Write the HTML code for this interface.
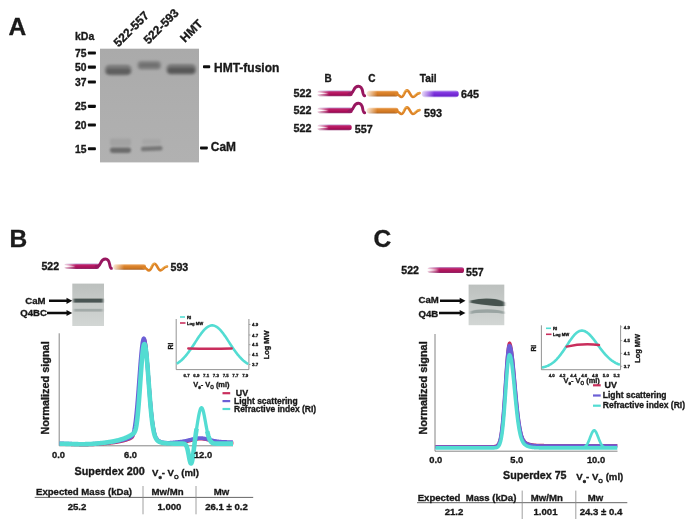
<!DOCTYPE html>
<html><head><meta charset="utf-8"><title>Figure</title>
<style>
html,body{margin:0;padding:0;background:#fff;}
body{width:693px;height:530px;overflow:hidden;}
svg{display:block;}
text{font-family:"Liberation Sans",Arial,sans-serif;font-weight:bold;fill:#1a1a1a;stroke:#1a1a1a;stroke-width:0.34px;stroke-linejoin:round;}
</style></head><body>
<svg width="693" height="530" viewBox="0 0 693 530">
<defs>
<filter id="b1" x="-20%" y="-50%" width="140%" height="200%"><feGaussianBlur stdDeviation="1.6 1.3"/></filter>
<filter id="b2" x="-20%" y="-50%" width="140%" height="200%"><feGaussianBlur stdDeviation="1.2 0.9"/></filter>
<filter id="b3" x="-20%" y="-80%" width="140%" height="260%"><feGaussianBlur stdDeviation="0.8 0.7"/></filter>
<filter id="soft" x="-5%" y="-5%" width="110%" height="110%"><feGaussianBlur stdDeviation="0.6"/></filter>
<linearGradient id="mg" x1="0" y1="0" x2="0" y2="1"><stop offset="0" stop-color="#b8a3d4"/><stop offset="0.28" stop-color="#bf1f69"/><stop offset="0.7" stop-color="#a90f57"/><stop offset="1" stop-color="#8e2c6c"/></linearGradient>
<linearGradient id="og" x1="0" y1="0" x2="0" y2="1"><stop offset="0" stop-color="#efb478"/><stop offset="0.28" stop-color="#de8730"/><stop offset="0.7" stop-color="#d07722"/><stop offset="1" stop-color="#a8642a"/></linearGradient>
<linearGradient id="pg" x1="0" y1="0" x2="0" y2="1"><stop offset="0" stop-color="#c0a8f0"/><stop offset="0.3" stop-color="#8238e0"/><stop offset="0.75" stop-color="#6d25cf"/><stop offset="1" stop-color="#b7a0ea"/></linearGradient>
<linearGradient id="fade" x1="0" y1="0" x2="1" y2="0"><stop offset="0" stop-color="#fff" stop-opacity="0.85"/><stop offset="0.35" stop-color="#fff" stop-opacity="0"/></linearGradient>
<linearGradient id="mgel" x1="0" y1="0" x2="0" y2="1"><stop offset="0" stop-color="#bcc0be"/><stop offset="0.5" stop-color="#c8ccca"/><stop offset="1" stop-color="#d2d6d4"/></linearGradient>
<linearGradient id="gelg" x1="0" y1="0" x2="0" y2="1"><stop offset="0" stop-color="#aaaaaa"/><stop offset="0.5" stop-color="#aeaeae"/><stop offset="1" stop-color="#b1b1b1"/></linearGradient>
</defs>
<g filter="url(#soft)">

<text x="8.5" y="35.4" font-size="24.5">A</text>
<text x="75" y="40.4" font-size="10.5">kDa</text>
<text x="75" y="57" font-size="10.3">75</text>
<rect x="87.9" y="51.5" width="8" height="3.1" rx="0.8" fill="#111"/>
<text x="75" y="71.1" font-size="10.3">50</text>
<rect x="87.9" y="65.6" width="8" height="3.1" rx="0.8" fill="#111"/>
<text x="75" y="85.9" font-size="10.3">37</text>
<rect x="87.9" y="80.4" width="8" height="3.1" rx="0.8" fill="#111"/>
<text x="75" y="110.3" font-size="10.3">25</text>
<rect x="87.9" y="104.8" width="8" height="3.1" rx="0.8" fill="#111"/>
<text x="75" y="129" font-size="10.3">20</text>
<rect x="87.9" y="123.5" width="8" height="3.1" rx="0.8" fill="#111"/>
<text x="75" y="152.7" font-size="10.3">15</text>
<rect x="87.9" y="147.2" width="8" height="3.1" rx="0.8" fill="#111"/>
<rect x="100" y="48.7" width="99" height="113.7" fill="url(#gelg)"/>
<g filter="url(#b1)">
<rect x="105" y="64.8" width="26.5" height="10.6" rx="4.5" fill="#7c7c7c"/>
<rect x="106" y="68.6" width="24.5" height="5.6" rx="2.8" fill="#5e5e5e"/>
<rect x="137.5" y="60.8" width="23.5" height="9" rx="4" fill="#848484"/>
<rect x="139" y="63.2" width="20.5" height="4.2" rx="2" fill="#707070"/>
<rect x="166.5" y="64" width="29.5" height="10.8" rx="4.5" fill="#7a7a7a"/>
<rect x="167.5" y="67.6" width="27.5" height="5.6" rx="2.8" fill="#585858"/>
</g>
<g filter="url(#b2)">
<rect x="110" y="147.4" width="21" height="5.6" rx="2.4" fill="#6c6c6c"/>
<rect x="110" y="138.5" width="21" height="7.5" rx="2" fill="#a3a3a3"/>
<rect x="141" y="146.3" width="21.5" height="4.6" rx="2" fill="#777" transform="rotate(-2.5 152 148.5)"/>
<rect x="142" y="139" width="19" height="5.5" rx="2" fill="#a7a7a7"/>
</g>
<text transform="translate(118.6,47.4) rotate(-45)" font-size="12">522-557</text>
<text transform="translate(148.4,44.8) rotate(-45)" font-size="12">522-593</text>
<text transform="translate(185,43) rotate(-45)" font-size="12">HMT</text>
<rect x="203" y="65.3" width="7.2" height="3" rx="0.8" fill="#111"/>
<text x="214" y="71.5" font-size="12">HMT-fusion</text>
<rect x="200" y="146.4" width="7.8" height="3" rx="0.8" fill="#111"/>
<text x="210.8" y="151.1" font-size="11.9">CaM</text>
<text x="324.4" y="81.8" font-size="10">B</text>
<text x="368.2" y="81.8" font-size="10">C</text>
<text x="419.8" y="82.2" font-size="10.2">Tail</text>
<text x="293.5" y="97.3" font-size="10.8">522</text>
<text x="293.5" y="114.3" font-size="10.8">522</text>
<text x="293.5" y="131.8" font-size="10.8">522</text>
<rect x="317.3" y="90.4" width="35.4" height="5.8" rx="2.5" fill="url(#mg)"/><rect x="316.8" y="89.9" width="35.4" height="6.8" fill="url(#fade)"/><path d="M316.8,92.2 L328.3,93.3 L316.8,94.4 Z" fill="#fff"/>
<path d="M349,94.1 C355.0,94.1 352.2,86.3 358.4,86.3 C364.4,86.3 361.4,95.6 364.8,95.7" fill="none" stroke="#98185f" stroke-width="2.9" stroke-linecap="round"/>
<rect x="366.8" y="90.7" width="31.7" height="5.8" rx="2.5" fill="url(#og)"/><rect x="366.3" y="90.2" width="31.7" height="6.8" fill="url(#fade)"/>
<path d="M396,94.19999999999999 C399.5,94.19999999999999 399.5,97.0 401.5,97.0 C404,97.0 404.5,90.39999999999999 407,90.39999999999999 C409.5,90.39999999999999 410.5,97.0 413,97.0 C415.5,97.0 416,93.1 419.5,93.1" fill="none" stroke="#dd8326" stroke-width="2.6" stroke-linecap="round"/><path d="M403,94.6 C404.5,90.39999999999999 405.5,90.19999999999999 407,90.19999999999999 M414.5,96.0 C416,93.1 417,92.89999999999999 419.5,92.89999999999999" fill="none" stroke="#f6c860" stroke-width="0.9" stroke-linecap="round" opacity="0.8"/>
<rect x="421.9" y="90.5" width="36.8" height="6.8" rx="3.0" fill="url(#pg)"/><rect x="421.4" y="90.0" width="36.8" height="7.8" fill="url(#fade)"/>
<text x="461" y="98.4" font-size="10.8">645</text>
<rect x="317.3" y="107.4" width="35.4" height="5.8" rx="2.5" fill="url(#mg)"/><rect x="316.8" y="106.9" width="35.4" height="6.8" fill="url(#fade)"/><path d="M316.8,109.2 L328.3,110.3 L316.8,111.4 Z" fill="#fff"/>
<path d="M349,111.1 C355.0,111.1 352.2,103.3 358.4,103.3 C364.4,103.3 361.4,112.6 364.8,112.7" fill="none" stroke="#98185f" stroke-width="2.9" stroke-linecap="round"/>
<rect x="366.8" y="107.7" width="31.7" height="5.8" rx="2.5" fill="url(#og)"/><rect x="366.3" y="107.2" width="31.7" height="6.8" fill="url(#fade)"/>
<path d="M396,111.19999999999999 C399.5,111.19999999999999 399.5,114.0 401.5,114.0 C404,114.0 404.5,107.39999999999999 407,107.39999999999999 C409.5,107.39999999999999 410.5,114.0 413,114.0 C415.5,114.0 416,110.1 419.5,110.1" fill="none" stroke="#dd8326" stroke-width="2.6" stroke-linecap="round"/><path d="M403,111.6 C404.5,107.39999999999999 405.5,107.19999999999999 407,107.19999999999999 M414.5,113.0 C416,110.1 417,109.89999999999999 419.5,109.89999999999999" fill="none" stroke="#f6c860" stroke-width="0.9" stroke-linecap="round" opacity="0.8"/>
<text x="424" y="117" font-size="10.8">593</text>
<rect x="317.3" y="124.4" width="34.4" height="5.8" rx="2.5" fill="url(#mg)"/><rect x="316.8" y="123.9" width="34.4" height="6.8" fill="url(#fade)"/><path d="M316.8,126.2 L328.3,127.3 L316.8,128.4 Z" fill="#fff"/>
<text x="354.7" y="133" font-size="10.8">557</text>
<text x="9.5" y="247.3" font-size="24.5">B</text>
<text x="41.4" y="270" font-size="10.6">522</text>
<rect x="64.2" y="263.5" width="35.3" height="5.4" rx="2.3" fill="url(#mg)"/><rect x="63.7" y="263.0" width="35.3" height="6.4" fill="url(#fade)"/><path d="M63.7,265.1 L75.2,266.2 L63.7,267.3 Z" fill="#fff"/>
<path d="M96,266.8 C102.0,266.8 99.2,259.0 105.4,259.0 C111.4,259.0 108.4,268.3 111.8,268.4" fill="none" stroke="#98185f" stroke-width="2.9" stroke-linecap="round"/>
<rect x="113.2" y="264.3" width="32.8" height="5.4" rx="2.3" fill="url(#og)"/><rect x="112.7" y="263.8" width="32.8" height="6.4" fill="url(#fade)"/>
<path d="M143.5,267.6 C147.0,267.6 147.0,270.4 149.0,270.4 C151.5,270.4 152.0,263.8 154.5,263.8 C157.0,263.8 158.0,270.4 160.5,270.4 C163.0,270.4 163.5,266.5 167.0,266.5" fill="none" stroke="#dd8326" stroke-width="2.6" stroke-linecap="round"/><path d="M150.5,268.0 C152.0,263.8 153.0,263.6 154.5,263.6 M162.0,269.4 C163.5,266.5 164.5,266.3 167.0,266.3" fill="none" stroke="#f6c860" stroke-width="0.9" stroke-linecap="round" opacity="0.8"/>
<text x="170.5" y="270.6" font-size="10.6">593</text>
<rect x="72.3" y="283.6" width="31.7" height="42.4" fill="url(#mgel)"/>
<g filter="url(#b3)"><rect x="73.5" y="298.6" width="29.5" height="4" fill="#4a5452"/><rect x="74" y="308.8" width="28.5" height="2.8" fill="#a2aaa8"/></g>
<text x="25.3" y="304.3" font-size="9.6">CaM</text>
<path d="M49,299.6 L66.5,299.6 L66.5,297.7 L72.3,300.8 L66.5,303.90000000000003 L66.5,302.0 L49,302.0 Z" fill="#111"/>
<text x="20.2" y="316.4" font-size="9.6">Q4BC</text>
<path d="M47,311.8 L66.5,311.8 L66.5,309.9 L72.3,313 L66.5,316.1 L66.5,314.2 L47,314.2 Z" fill="#111"/>
<path d="M59.2,333.3 L59.2,445.8 L233,445.8" fill="none" stroke="#777" stroke-width="0.9"/>
<text transform="translate(49.3,434.5) rotate(-90)" font-size="10.9">Normalized signal</text>
<path d="M59.5,443.43 L59.8,443.43 L60.1,443.44 L60.4,443.44 L60.7,443.45 L61.0,443.46 L61.3,443.46 L61.6,443.47 L61.9,443.48 L62.2,443.48 L62.5,443.49 L62.8,443.50 L63.1,443.50 L63.4,443.51 L63.7,443.52 L64.0,443.53 L64.3,443.54 L64.6,443.54 L64.9,443.55 L65.2,443.56 L65.5,443.57 L65.8,443.58 L66.1,443.59 L66.4,443.60 L66.7,443.61 L67.0,443.61 L67.3,443.62 L67.6,443.63 L67.9,443.64 L68.2,443.65 L68.5,443.66 L68.8,443.67 L69.1,443.68 L69.4,443.69 L69.7,443.70 L70.0,443.71 L70.3,443.72 L70.6,443.73 L70.9,443.74 L71.2,443.75 L71.5,443.76 L71.8,443.77 L72.1,443.79 L72.4,443.80 L72.7,443.81 L73.0,443.82 L73.3,443.83 L73.6,443.84 L73.9,443.85 L74.2,443.85 L74.5,443.86 L74.8,443.87 L75.1,443.88 L75.4,443.89 L75.7,443.90 L76.0,443.91 L76.3,443.92 L76.6,443.93 L76.9,443.94 L77.2,443.94 L77.5,443.95 L77.8,443.96 L78.1,443.96 L78.4,443.97 L78.7,443.98 L79.0,443.98 L79.3,443.99 L79.6,444.00 L79.9,444.00 L80.2,444.01 L80.5,444.01 L80.8,444.01 L81.1,444.02 L81.4,444.02 L81.7,444.02 L82.0,444.03 L82.3,444.03 L82.6,444.03 L82.9,444.03 L83.2,444.03 L83.5,444.03 L83.8,444.03 L84.1,444.03 L84.4,444.03 L84.7,444.03 L85.0,444.02 L85.3,444.02 L85.6,444.02 L85.9,444.01 L86.2,444.01 L86.5,444.00 L86.8,444.00 L87.1,443.99 L87.4,443.99 L87.7,443.98 L88.0,443.97 L88.3,443.96 L88.6,443.95 L88.9,443.95 L89.2,443.94 L89.5,443.93 L89.8,443.92 L90.1,443.90 L90.4,443.89 L90.7,443.88 L91.0,443.87 L91.3,443.85 L91.6,443.84 L91.9,443.83 L92.2,443.81 L92.5,443.80 L92.8,443.78 L93.1,443.77 L93.4,443.75 L93.7,443.73 L94.0,443.72 L94.3,443.70 L94.6,443.68 L94.9,443.66 L95.2,443.64 L95.5,443.62 L95.8,443.60 L96.1,443.58 L96.4,443.56 L96.7,443.54 L97.0,443.52 L97.3,443.50 L97.6,443.48 L97.9,443.46 L98.2,443.43 L98.5,443.41 L98.8,443.39 L99.1,443.37 L99.4,443.34 L99.7,443.32 L100.0,443.29 L100.3,443.27 L100.6,443.24 L100.9,443.22 L101.2,443.19 L101.5,443.17 L101.8,443.14 L102.1,443.11 L102.4,443.09 L102.7,443.06 L103.0,443.03 L103.3,443.01 L103.6,442.98 L103.9,442.95 L104.2,442.92 L104.5,442.89 L104.8,442.87 L105.1,442.84 L105.4,442.81 L105.7,442.78 L106.0,442.75 L106.3,442.72 L106.6,442.69 L106.9,442.66 L107.2,442.62 L107.5,442.59 L107.8,442.56 L108.1,442.53 L108.4,442.50 L108.7,442.46 L109.0,442.43 L109.3,442.39 L109.6,442.36 L109.9,442.33 L110.2,442.29 L110.5,442.25 L110.8,442.22 L111.1,442.18 L111.4,442.15 L111.7,442.11 L112.0,442.07 L112.3,442.03 L112.6,441.99 L112.9,441.95 L113.2,441.91 L113.5,441.87 L113.8,441.83 L114.1,441.78 L114.4,441.74 L114.7,441.70 L115.0,441.65 L115.3,441.61 L115.6,441.56 L115.9,441.51 L116.2,441.47 L116.5,441.42 L116.8,441.37 L117.1,441.32 L117.4,441.27 L117.7,441.21 L118.0,441.16 L118.3,441.10 L118.6,441.05 L118.9,440.99 L119.2,440.93 L119.5,440.87 L119.8,440.81 L120.1,440.75 L120.4,440.69 L120.7,440.62 L121.0,440.56 L121.3,440.49 L121.6,440.42 L121.9,440.35 L122.2,440.28 L122.5,440.21 L122.8,440.14 L123.1,440.06 L123.4,439.98 L123.7,439.90 L124.0,439.82 L124.3,439.74 L124.6,439.65 L124.9,439.57 L125.2,439.48 L125.5,439.39 L125.8,439.29 L126.1,439.20 L126.4,439.10 L126.7,439.00 L127.0,438.90 L127.3,438.80 L127.6,438.69 L127.9,438.58 L128.2,438.47 L128.5,438.36 L128.8,438.24 L129.1,438.12 L129.4,437.99 L129.7,437.86 L130.0,437.72 L130.3,437.58 L130.6,437.41 L130.9,437.23 L131.2,437.01 L131.5,436.75 L131.8,436.44 L132.1,436.04 L132.4,435.55 L132.7,434.94 L133.0,434.18 L133.3,433.27 L133.6,432.18 L133.9,430.91 L134.2,429.46 L134.5,427.80 L134.8,425.95 L135.1,423.90 L135.4,421.64 L135.7,419.18 L136.0,416.52 L136.3,413.66 L136.6,410.61 L136.9,407.38 L137.2,403.98 L137.5,400.42 L137.8,396.72 L138.1,392.90 L138.4,388.97 L138.7,384.98 L139.0,380.93 L139.3,376.88 L139.6,372.84 L139.9,368.87 L140.2,364.98 L140.5,361.23 L140.8,357.65 L141.1,354.27 L141.4,351.13 L141.7,348.27 L142.0,345.72 L142.3,343.51 L142.6,341.67 L142.9,340.21 L143.2,339.15 L143.5,338.51 L143.8,338.30 L144.1,338.52 L144.4,339.17 L144.7,340.25 L145.0,341.75 L145.3,343.64 L145.6,345.89 L145.9,348.49 L146.2,351.40 L146.5,354.58 L146.8,358.00 L147.1,361.62 L147.4,365.40 L147.7,369.30 L148.0,373.28 L148.3,377.30 L148.6,381.32 L148.9,385.32 L149.2,389.26 L149.5,393.12 L149.8,396.86 L150.1,400.47 L150.4,403.93 L150.7,407.22 L151.0,410.34 L151.3,413.28 L151.6,416.02 L151.9,418.58 L152.2,420.95 L152.5,423.13 L152.8,425.13 L153.1,426.96 L153.4,428.62 L153.7,430.12 L154.0,431.48 L154.3,432.69 L154.6,433.79 L154.9,434.76 L155.2,435.63 L155.5,436.40 L155.8,437.08 L156.1,437.69 L156.4,438.22 L156.7,438.70 L157.0,439.12 L157.3,439.49 L157.6,439.82 L157.9,440.11 L158.2,440.38 L158.5,440.61 L158.8,440.82 L159.1,441.01 L159.4,441.17 L159.7,441.33 L160.0,441.47 L160.3,441.60 L160.6,441.71 L160.9,441.82 L161.2,441.92 L161.5,442.01 L161.8,442.09 L162.1,442.17 L162.4,442.24 L162.7,442.31 L163.0,442.37 L163.3,442.43 L163.6,442.48 L163.9,442.53 L164.2,442.57 L164.5,442.61 L164.8,442.65 L165.1,442.68 L165.4,442.71 L165.7,442.73 L166.0,442.75 L166.3,442.77 L166.6,442.79 L166.9,442.80 L167.2,442.81 L167.5,442.82 L167.8,442.82 L168.1,442.82 L168.4,442.82 L168.7,442.81 L169.0,442.81 L169.3,442.80 L169.6,442.78 L169.9,442.77 L170.2,442.75 L170.5,442.73 L170.8,442.71 L171.1,442.69 L171.4,442.66 L171.7,442.64 L172.0,442.61 L172.3,442.58 L172.6,442.56 L172.9,442.53 L173.2,442.50 L173.5,442.47 L173.8,442.44 L174.1,442.40 L174.4,442.37 L174.7,442.34 L175.0,442.31 L175.3,442.28 L175.6,442.25 L175.9,442.22 L176.2,442.19 L176.5,442.15 L176.8,442.12 L177.1,442.09 L177.4,442.06 L177.7,442.03 L178.0,442.00 L178.3,441.96 L178.6,441.93 L178.9,441.90 L179.2,441.86 L179.5,441.83 L179.8,441.79 L180.1,441.76 L180.4,441.72 L180.7,441.68 L181.0,441.64 L181.3,441.60 L181.6,441.56 L181.9,441.51 L182.2,441.47 L182.5,441.42 L182.8,441.38 L183.1,441.33 L183.4,441.28 L183.7,441.22 L184.0,441.17 L184.3,441.11 L184.6,441.06 L184.9,441.00 L185.2,440.94 L185.5,440.88 L185.8,440.82 L186.1,440.75 L186.4,440.69 L186.7,440.62 L187.0,440.55 L187.3,440.48 L187.6,440.41 L187.9,440.34 L188.2,440.26 L188.5,440.19 L188.8,440.12 L189.1,440.04 L189.4,439.96 L189.7,439.89 L190.0,439.81 L190.3,439.73 L190.6,439.66 L190.9,439.58 L191.2,439.50 L191.5,439.43 L191.8,439.35 L192.1,439.27 L192.4,439.20 L192.7,439.13 L193.0,439.05 L193.3,438.98 L193.6,438.92 L193.9,438.85 L194.2,438.78 L194.5,438.72 L194.8,438.66 L195.1,438.60 L195.4,438.54 L195.7,438.49 L196.0,438.44 L196.3,438.39 L196.6,438.35 L196.9,438.31 L197.2,438.27 L197.5,438.24 L197.8,438.21 L198.1,438.18 L198.4,438.16 L198.7,438.14 L199.0,438.12 L199.3,438.11 L199.6,438.10 L199.9,438.10 L200.2,438.10 L200.5,438.11 L200.8,438.11 L201.1,438.13 L201.4,438.14 L201.7,438.16 L202.0,438.19 L202.3,438.22 L202.6,438.25 L202.9,438.28 L203.2,438.32 L203.5,438.36 L203.8,438.41 L204.1,438.46 L204.4,438.51 L204.7,438.56 L205.0,438.62 L205.3,438.68 L205.6,438.74 L205.9,438.80 L206.2,438.87 L206.5,438.93 L206.8,439.00 L207.1,439.07 L207.4,439.15 L207.7,439.22 L208.0,439.29 L208.3,439.37 L208.6,439.44 L208.9,439.52 L209.2,439.60 L209.5,439.67 L209.8,439.75 L210.1,439.83 L210.4,439.90 L210.7,439.98 L211.0,440.05 L211.3,440.13 L211.6,440.20 L211.9,440.27 L212.2,440.35 L212.5,440.42 L212.8,440.49 L213.1,440.55 L213.4,440.62 L213.7,440.69 L214.0,440.75 L214.3,440.81 L214.6,440.87 L214.9,440.93 L215.2,440.99 L215.5,441.04 L215.8,441.10 L216.1,441.15 L216.4,441.20 L216.7,441.25 L217.0,441.29 L217.3,441.34 L217.6,441.38 L217.9,441.42 L218.2,441.46 L218.5,441.50 L218.8,441.54 L219.1,441.57 L219.4,441.60 L219.7,441.63 L220.0,441.66 L220.3,441.69 L220.6,441.72 L220.9,441.74 L221.2,441.77 L221.5,441.79 L221.8,441.81 L222.1,441.83 L222.4,441.85 L222.7,441.87 L223.0,441.89 L223.3,441.90 L223.6,441.92 L223.9,441.93 L224.2,441.94 L224.5,441.96 L224.8,441.97 L225.1,441.98 L225.4,441.99 L225.7,442.00 L226.0,442.01 L226.3,442.01 L226.6,442.02 L226.9,442.03 L227.2,442.03 L227.5,442.04 L227.8,442.04 L228.1,442.05 L228.4,442.05 L228.7,442.06 L229.0,442.06 L229.3,442.07 L229.6,442.07 L229.9,442.07 L230.2,442.07 L230.5,442.08 L230.8,442.08 L231.1,442.08 L231.4,442.08 L231.7,442.08 L232.0,442.09 L232.3,442.09 L232.6,442.09 L232.9,442.09" fill="none" stroke="#c92f5c" stroke-width="3.0" stroke-linejoin="round" transform="translate(0.5,0.9)"/>
<path d="M59.5,443.43 L59.8,443.43 L60.1,443.44 L60.4,443.44 L60.7,443.45 L61.0,443.46 L61.3,443.46 L61.6,443.47 L61.9,443.48 L62.2,443.48 L62.5,443.49 L62.8,443.50 L63.1,443.50 L63.4,443.51 L63.7,443.52 L64.0,443.53 L64.3,443.54 L64.6,443.54 L64.9,443.55 L65.2,443.56 L65.5,443.57 L65.8,443.58 L66.1,443.59 L66.4,443.60 L66.7,443.61 L67.0,443.61 L67.3,443.62 L67.6,443.63 L67.9,443.64 L68.2,443.65 L68.5,443.66 L68.8,443.67 L69.1,443.68 L69.4,443.69 L69.7,443.70 L70.0,443.71 L70.3,443.72 L70.6,443.73 L70.9,443.74 L71.2,443.75 L71.5,443.76 L71.8,443.77 L72.1,443.79 L72.4,443.80 L72.7,443.81 L73.0,443.82 L73.3,443.83 L73.6,443.84 L73.9,443.85 L74.2,443.85 L74.5,443.86 L74.8,443.87 L75.1,443.88 L75.4,443.89 L75.7,443.90 L76.0,443.91 L76.3,443.92 L76.6,443.93 L76.9,443.94 L77.2,443.94 L77.5,443.95 L77.8,443.96 L78.1,443.96 L78.4,443.97 L78.7,443.98 L79.0,443.98 L79.3,443.99 L79.6,444.00 L79.9,444.00 L80.2,444.01 L80.5,444.01 L80.8,444.01 L81.1,444.02 L81.4,444.02 L81.7,444.02 L82.0,444.03 L82.3,444.03 L82.6,444.03 L82.9,444.03 L83.2,444.03 L83.5,444.03 L83.8,444.03 L84.1,444.03 L84.4,444.03 L84.7,444.03 L85.0,444.02 L85.3,444.02 L85.6,444.02 L85.9,444.01 L86.2,444.01 L86.5,444.00 L86.8,444.00 L87.1,443.99 L87.4,443.99 L87.7,443.98 L88.0,443.97 L88.3,443.96 L88.6,443.95 L88.9,443.95 L89.2,443.94 L89.5,443.93 L89.8,443.92 L90.1,443.90 L90.4,443.89 L90.7,443.88 L91.0,443.87 L91.3,443.85 L91.6,443.84 L91.9,443.83 L92.2,443.81 L92.5,443.80 L92.8,443.78 L93.1,443.77 L93.4,443.75 L93.7,443.73 L94.0,443.72 L94.3,443.70 L94.6,443.68 L94.9,443.66 L95.2,443.64 L95.5,443.62 L95.8,443.60 L96.1,443.58 L96.4,443.56 L96.7,443.54 L97.0,443.52 L97.3,443.50 L97.6,443.48 L97.9,443.46 L98.2,443.43 L98.5,443.41 L98.8,443.39 L99.1,443.37 L99.4,443.34 L99.7,443.32 L100.0,443.29 L100.3,443.27 L100.6,443.24 L100.9,443.22 L101.2,443.19 L101.5,443.17 L101.8,443.14 L102.1,443.11 L102.4,443.09 L102.7,443.06 L103.0,443.03 L103.3,443.01 L103.6,442.98 L103.9,442.95 L104.2,442.92 L104.5,442.89 L104.8,442.87 L105.1,442.84 L105.4,442.81 L105.7,442.78 L106.0,442.75 L106.3,442.72 L106.6,442.69 L106.9,442.66 L107.2,442.62 L107.5,442.59 L107.8,442.56 L108.1,442.53 L108.4,442.50 L108.7,442.46 L109.0,442.43 L109.3,442.39 L109.6,442.36 L109.9,442.33 L110.2,442.29 L110.5,442.25 L110.8,442.22 L111.1,442.18 L111.4,442.15 L111.7,442.11 L112.0,442.07 L112.3,442.03 L112.6,441.99 L112.9,441.95 L113.2,441.91 L113.5,441.87 L113.8,441.83 L114.1,441.78 L114.4,441.74 L114.7,441.70 L115.0,441.65 L115.3,441.61 L115.6,441.56 L115.9,441.51 L116.2,441.47 L116.5,441.42 L116.8,441.37 L117.1,441.32 L117.4,441.27 L117.7,441.21 L118.0,441.16 L118.3,441.10 L118.6,441.05 L118.9,440.99 L119.2,440.93 L119.5,440.87 L119.8,440.81 L120.1,440.75 L120.4,440.69 L120.7,440.62 L121.0,440.56 L121.3,440.49 L121.6,440.42 L121.9,440.35 L122.2,440.28 L122.5,440.21 L122.8,440.14 L123.1,440.06 L123.4,439.98 L123.7,439.90 L124.0,439.82 L124.3,439.74 L124.6,439.65 L124.9,439.57 L125.2,439.48 L125.5,439.39 L125.8,439.29 L126.1,439.20 L126.4,439.10 L126.7,439.00 L127.0,438.90 L127.3,438.80 L127.6,438.69 L127.9,438.58 L128.2,438.47 L128.5,438.36 L128.8,438.24 L129.1,438.12 L129.4,437.99 L129.7,437.86 L130.0,437.72 L130.3,437.58 L130.6,437.41 L130.9,437.23 L131.2,437.01 L131.5,436.75 L131.8,436.44 L132.1,436.04 L132.4,435.55 L132.7,434.94 L133.0,434.18 L133.3,433.27 L133.6,432.18 L133.9,430.91 L134.2,429.46 L134.5,427.80 L134.8,425.95 L135.1,423.90 L135.4,421.64 L135.7,419.18 L136.0,416.52 L136.3,413.66 L136.6,410.61 L136.9,407.38 L137.2,403.98 L137.5,400.42 L137.8,396.72 L138.1,392.90 L138.4,388.97 L138.7,384.98 L139.0,380.93 L139.3,376.88 L139.6,372.84 L139.9,368.87 L140.2,364.98 L140.5,361.23 L140.8,357.65 L141.1,354.27 L141.4,351.13 L141.7,348.27 L142.0,345.72 L142.3,343.51 L142.6,341.67 L142.9,340.21 L143.2,339.15 L143.5,338.51 L143.8,338.30 L144.1,338.52 L144.4,339.17 L144.7,340.25 L145.0,341.75 L145.3,343.64 L145.6,345.89 L145.9,348.49 L146.2,351.40 L146.5,354.58 L146.8,358.00 L147.1,361.62 L147.4,365.40 L147.7,369.30 L148.0,373.28 L148.3,377.30 L148.6,381.32 L148.9,385.32 L149.2,389.26 L149.5,393.12 L149.8,396.86 L150.1,400.47 L150.4,403.93 L150.7,407.22 L151.0,410.34 L151.3,413.28 L151.6,416.02 L151.9,418.58 L152.2,420.95 L152.5,423.13 L152.8,425.13 L153.1,426.96 L153.4,428.62 L153.7,430.12 L154.0,431.48 L154.3,432.69 L154.6,433.79 L154.9,434.76 L155.2,435.63 L155.5,436.40 L155.8,437.08 L156.1,437.69 L156.4,438.22 L156.7,438.70 L157.0,439.12 L157.3,439.49 L157.6,439.82 L157.9,440.11 L158.2,440.38 L158.5,440.61 L158.8,440.82 L159.1,441.01 L159.4,441.17 L159.7,441.33 L160.0,441.47 L160.3,441.60 L160.6,441.71 L160.9,441.82 L161.2,441.92 L161.5,442.01 L161.8,442.09 L162.1,442.17 L162.4,442.24 L162.7,442.31 L163.0,442.37 L163.3,442.43 L163.6,442.48 L163.9,442.53 L164.2,442.57 L164.5,442.61 L164.8,442.65 L165.1,442.68 L165.4,442.71 L165.7,442.73 L166.0,442.75 L166.3,442.77 L166.6,442.79 L166.9,442.80 L167.2,442.81 L167.5,442.82 L167.8,442.82 L168.1,442.82 L168.4,442.82 L168.7,442.81 L169.0,442.81 L169.3,442.80 L169.6,442.78 L169.9,442.77 L170.2,442.75 L170.5,442.73 L170.8,442.71 L171.1,442.69 L171.4,442.66 L171.7,442.64 L172.0,442.61 L172.3,442.58 L172.6,442.56 L172.9,442.53 L173.2,442.50 L173.5,442.47 L173.8,442.44 L174.1,442.40 L174.4,442.37 L174.7,442.34 L175.0,442.31 L175.3,442.28 L175.6,442.25 L175.9,442.22 L176.2,442.19 L176.5,442.15 L176.8,442.12 L177.1,442.09 L177.4,442.06 L177.7,442.03 L178.0,442.00 L178.3,441.96 L178.6,441.93 L178.9,441.90 L179.2,441.86 L179.5,441.83 L179.8,441.79 L180.1,441.76 L180.4,441.72 L180.7,441.68 L181.0,441.64 L181.3,441.60 L181.6,441.56 L181.9,441.51 L182.2,441.47 L182.5,441.42 L182.8,441.38 L183.1,441.33 L183.4,441.28 L183.7,441.22 L184.0,441.17 L184.3,441.11 L184.6,441.06 L184.9,441.00 L185.2,440.94 L185.5,440.88 L185.8,440.82 L186.1,440.75 L186.4,440.69 L186.7,440.62 L187.0,440.55 L187.3,440.48 L187.6,440.41 L187.9,440.34 L188.2,440.26 L188.5,440.19 L188.8,440.12 L189.1,440.04 L189.4,439.96 L189.7,439.89 L190.0,439.81 L190.3,439.73 L190.6,439.66 L190.9,439.58 L191.2,439.50 L191.5,439.43 L191.8,439.35 L192.1,439.27 L192.4,439.20 L192.7,439.13 L193.0,439.05 L193.3,438.98 L193.6,438.92 L193.9,438.85 L194.2,438.78 L194.5,438.72 L194.8,438.66 L195.1,438.60 L195.4,438.54 L195.7,438.49 L196.0,438.44 L196.3,438.39 L196.6,438.35 L196.9,438.31 L197.2,438.27 L197.5,438.24 L197.8,438.21 L198.1,438.18 L198.4,438.16 L198.7,438.14 L199.0,438.12 L199.3,438.11 L199.6,438.10 L199.9,438.10 L200.2,438.10 L200.5,438.11 L200.8,438.11 L201.1,438.13 L201.4,438.14 L201.7,438.16 L202.0,438.19 L202.3,438.22 L202.6,438.25 L202.9,438.28 L203.2,438.32 L203.5,438.36 L203.8,438.41 L204.1,438.46 L204.4,438.51 L204.7,438.56 L205.0,438.62 L205.3,438.68 L205.6,438.74 L205.9,438.80 L206.2,438.87 L206.5,438.93 L206.8,439.00 L207.1,439.07 L207.4,439.15 L207.7,439.22 L208.0,439.29 L208.3,439.37 L208.6,439.44 L208.9,439.52 L209.2,439.60 L209.5,439.67 L209.8,439.75 L210.1,439.83 L210.4,439.90 L210.7,439.98 L211.0,440.05 L211.3,440.13 L211.6,440.20 L211.9,440.27 L212.2,440.35 L212.5,440.42 L212.8,440.49 L213.1,440.55 L213.4,440.62 L213.7,440.69 L214.0,440.75 L214.3,440.81 L214.6,440.87 L214.9,440.93 L215.2,440.99 L215.5,441.04 L215.8,441.10 L216.1,441.15 L216.4,441.20 L216.7,441.25 L217.0,441.29 L217.3,441.34 L217.6,441.38 L217.9,441.42 L218.2,441.46 L218.5,441.50 L218.8,441.54 L219.1,441.57 L219.4,441.60 L219.7,441.63 L220.0,441.66 L220.3,441.69 L220.6,441.72 L220.9,441.74 L221.2,441.77 L221.5,441.79 L221.8,441.81 L222.1,441.83 L222.4,441.85 L222.7,441.87 L223.0,441.89 L223.3,441.90 L223.6,441.92 L223.9,441.93 L224.2,441.94 L224.5,441.96 L224.8,441.97 L225.1,441.98 L225.4,441.99 L225.7,442.00 L226.0,442.01 L226.3,442.01 L226.6,442.02 L226.9,442.03 L227.2,442.03 L227.5,442.04 L227.8,442.04 L228.1,442.05 L228.4,442.05 L228.7,442.06 L229.0,442.06 L229.3,442.07 L229.6,442.07 L229.9,442.07 L230.2,442.07 L230.5,442.08 L230.8,442.08 L231.1,442.08 L231.4,442.08 L231.7,442.08 L232.0,442.09 L232.3,442.09 L232.6,442.09 L232.9,442.09" fill="none" stroke="#6c5fd6" stroke-width="3.8" stroke-linejoin="round"/>
<path d="M59.5,443.70 L59.8,443.70 L60.1,443.71 L60.4,443.71 L60.7,443.72 L61.0,443.73 L61.3,443.73 L61.6,443.74 L61.9,443.74 L62.2,443.75 L62.5,443.76 L62.8,443.76 L63.1,443.77 L63.4,443.78 L63.7,443.78 L64.0,443.79 L64.3,443.80 L64.6,443.81 L64.9,443.81 L65.2,443.82 L65.5,443.83 L65.8,443.84 L66.1,443.85 L66.4,443.85 L66.7,443.86 L67.0,443.87 L67.3,443.88 L67.6,443.89 L67.9,443.90 L68.2,443.91 L68.5,443.91 L68.8,443.92 L69.1,443.93 L69.4,443.94 L69.7,443.95 L70.0,443.96 L70.3,443.97 L70.6,443.98 L70.9,443.99 L71.2,444.00 L71.5,444.01 L71.8,444.01 L72.1,444.02 L72.4,444.03 L72.7,444.04 L73.0,444.05 L73.3,444.06 L73.6,444.07 L73.9,444.08 L74.2,444.08 L74.5,444.09 L74.8,444.10 L75.1,444.11 L75.4,444.12 L75.7,444.12 L76.0,444.13 L76.3,444.14 L76.6,444.14 L76.9,444.15 L77.2,444.16 L77.5,444.16 L77.8,444.17 L78.1,444.17 L78.4,444.18 L78.7,444.18 L79.0,444.19 L79.3,444.19 L79.6,444.19 L79.9,444.20 L80.2,444.20 L80.5,444.20 L80.8,444.20 L81.1,444.21 L81.4,444.21 L81.7,444.21 L82.0,444.21 L82.3,444.21 L82.6,444.21 L82.9,444.20 L83.2,444.20 L83.5,444.20 L83.8,444.20 L84.1,444.19 L84.4,444.19 L84.7,444.18 L85.0,444.18 L85.3,444.17 L85.6,444.17 L85.9,444.16 L86.2,444.15 L86.5,444.15 L86.8,444.14 L87.1,444.13 L87.4,444.12 L87.7,444.11 L88.0,444.10 L88.3,444.09 L88.6,444.07 L88.9,444.06 L89.2,444.05 L89.5,444.03 L89.8,444.02 L90.1,444.00 L90.4,443.99 L90.7,443.97 L91.0,443.96 L91.3,443.94 L91.6,443.92 L91.9,443.90 L92.2,443.88 L92.5,443.86 L92.8,443.84 L93.1,443.82 L93.4,443.80 L93.7,443.78 L94.0,443.76 L94.3,443.74 L94.6,443.71 L94.9,443.69 L95.2,443.67 L95.5,443.64 L95.8,443.62 L96.1,443.59 L96.4,443.57 L96.7,443.54 L97.0,443.51 L97.3,443.48 L97.6,443.46 L97.9,443.43 L98.2,443.40 L98.5,443.37 L98.8,443.34 L99.1,443.31 L99.4,443.28 L99.7,443.25 L100.0,443.22 L100.3,443.19 L100.6,443.15 L100.9,443.12 L101.2,443.09 L101.5,443.05 L101.8,443.02 L102.1,442.99 L102.4,442.95 L102.7,442.92 L103.0,442.88 L103.3,442.84 L103.6,442.81 L103.9,442.77 L104.2,442.73 L104.5,442.70 L104.8,442.66 L105.1,442.62 L105.4,442.58 L105.7,442.54 L106.0,442.50 L106.3,442.46 L106.6,442.42 L106.9,442.38 L107.2,442.33 L107.5,442.29 L107.8,442.25 L108.1,442.20 L108.4,442.16 L108.7,442.11 L109.0,442.07 L109.3,442.02 L109.6,441.97 L109.9,441.93 L110.2,441.88 L110.5,441.83 L110.8,441.78 L111.1,441.73 L111.4,441.68 L111.7,441.63 L112.0,441.57 L112.3,441.52 L112.6,441.46 L112.9,441.41 L113.2,441.35 L113.5,441.30 L113.8,441.24 L114.1,441.18 L114.4,441.12 L114.7,441.06 L115.0,440.99 L115.3,440.93 L115.6,440.87 L115.9,440.80 L116.2,440.73 L116.5,440.67 L116.8,440.60 L117.1,440.53 L117.4,440.46 L117.7,440.38 L118.0,440.31 L118.3,440.23 L118.6,440.15 L118.9,440.08 L119.2,440.00 L119.5,439.91 L119.8,439.83 L120.1,439.74 L120.4,439.66 L120.7,439.57 L121.0,439.48 L121.3,439.39 L121.6,439.29 L121.9,439.20 L122.2,439.10 L122.5,439.00 L122.8,438.90 L123.1,438.79 L123.4,438.69 L123.7,438.58 L124.0,438.47 L124.3,438.35 L124.6,438.24 L124.9,438.12 L125.2,438.00 L125.5,437.88 L125.8,437.75 L126.1,437.63 L126.4,437.49 L126.7,437.36 L127.0,437.23 L127.3,437.09 L127.6,436.94 L127.9,436.80 L128.2,436.65 L128.5,436.50 L128.8,436.35 L129.1,436.19 L129.4,436.03 L129.7,435.86 L130.0,435.70 L130.3,435.53 L130.6,435.35 L130.9,435.17 L131.2,434.99 L131.5,434.81 L131.8,434.62 L132.1,434.42 L132.4,434.22 L132.7,434.01 L133.0,433.79 L133.3,433.55 L133.6,433.29 L133.9,432.98 L134.2,432.63 L134.5,432.19 L134.8,431.64 L135.1,430.95 L135.4,430.08 L135.7,428.99 L136.0,427.65 L136.3,426.06 L136.6,424.18 L136.9,422.02 L137.2,419.64 L137.5,416.98 L137.8,414.04 L138.1,410.83 L138.4,407.39 L138.7,403.72 L139.0,399.87 L139.3,395.86 L139.6,391.71 L139.9,387.48 L140.2,383.20 L140.5,378.91 L140.8,374.67 L141.1,370.51 L141.4,366.49 L141.7,362.67 L142.0,359.08 L142.3,355.79 L142.6,352.83 L142.9,350.25 L143.2,348.08 L143.5,346.36 L143.8,345.11 L144.1,344.35 L144.4,344.10 L144.7,344.34 L145.0,345.05 L145.3,346.22 L145.6,347.84 L145.9,349.88 L146.2,352.31 L146.5,355.10 L146.8,358.21 L147.1,361.59 L147.4,365.20 L147.7,369.00 L148.0,372.94 L148.3,376.97 L148.6,381.05 L148.9,385.14 L149.2,389.20 L149.5,393.18 L149.8,397.07 L150.1,400.83 L150.4,404.44 L150.7,407.87 L151.0,411.12 L151.3,414.18 L151.6,417.03 L151.9,419.67 L152.2,422.11 L152.5,424.35 L152.8,426.38 L153.1,428.23 L153.4,429.90 L153.7,431.40 L154.0,432.74 L154.3,433.94 L154.6,435.00 L154.9,435.93 L155.2,436.76 L155.5,437.49 L155.8,438.13 L156.1,438.69 L156.4,439.19 L156.7,439.62 L157.0,440.00 L157.3,440.33 L157.6,440.63 L157.9,440.89 L158.2,441.12 L158.5,441.33 L158.8,441.51 L159.1,441.68 L159.4,441.83 L159.7,441.96 L160.0,442.09 L160.3,442.20 L160.6,442.31 L160.9,442.40 L161.2,442.49 L161.5,442.57 L161.8,442.65 L162.1,442.72 L162.4,442.79 L162.7,442.85 L163.0,442.91 L163.3,442.96 L163.6,443.01 L163.9,443.06 L164.2,443.10 L164.5,443.14 L164.8,443.18 L165.1,443.22 L165.4,443.25 L165.7,443.28 L166.0,443.31 L166.3,443.33 L166.6,443.36 L166.9,443.38 L167.2,443.40 L167.5,443.42 L167.8,443.44 L168.1,443.45 L168.4,443.47 L168.7,443.48 L169.0,443.49 L169.3,443.50 L169.6,443.51 L169.9,443.52 L170.2,443.53 L170.5,443.54 L170.8,443.54 L171.1,443.55 L171.4,443.55 L171.7,443.56 L172.0,443.56 L172.3,443.57 L172.6,443.57 L172.9,443.57 L173.2,443.58 L173.5,443.58 L173.8,443.58 L174.1,443.58 L174.4,443.59 L174.7,443.59 L175.0,443.59 L175.3,443.59 L175.6,443.59 L175.9,443.59 L176.2,443.59 L176.5,443.59 L176.8,443.60 L177.1,443.60 L177.4,443.60 L177.7,443.60 L178.0,443.60 L178.3,443.60 L178.6,443.60 L178.9,443.60 L179.2,443.60 L179.5,443.60 L179.8,443.60 L180.1,443.60 L180.4,443.60 L180.7,443.60 L181.0,443.60 L181.3,443.60 L181.6,443.60 L181.9,443.61 L182.2,443.61 L182.5,443.62 L182.8,443.63 L183.1,443.64 L183.4,443.67 L183.7,443.70 L184.0,443.75 L184.3,443.83 L184.6,443.94 L184.9,444.09 L185.2,444.29 L185.5,444.57 L185.8,444.92 L186.1,445.38 L186.4,445.96 L186.7,446.67 L187.0,447.53 L187.3,448.54 L187.6,449.71 L187.9,451.02 L188.2,452.46 L188.5,454.00 L188.8,455.60 L189.1,457.21 L189.4,458.77 L189.7,460.21 L190.0,461.46 L190.3,462.47 L190.6,463.17 L190.9,463.53 L191.2,463.50 L191.5,463.08 L191.8,462.26 L192.1,461.08 L192.4,459.56 L192.7,457.75 L193.0,455.71 L193.3,453.49 L193.6,451.16 L193.9,448.75 L194.2,446.33 L194.5,443.91 L194.8,441.54 L195.1,439.22 L195.4,436.97 L195.7,434.78 L196.0,432.66 L196.3,430.60 L196.6,428.58" fill="none" stroke="#52dcd2" stroke-width="4.6" stroke-linejoin="round"/>
<path d="M196.2,431.28 L196.5,429.25 L196.8,427.27 L197.1,425.33 L197.4,423.44 L197.7,421.59 L198.0,419.80 L198.3,418.07 L198.6,416.41 L198.9,414.85 L199.2,413.40 L199.5,412.07 L199.8,410.88 L200.1,409.86 L200.4,409.01 L200.7,408.35 L201.0,407.90 L201.3,407.65 L201.6,407.61 L201.9,407.79 L202.2,408.18 L202.5,408.76 L202.8,409.55 L203.1,410.51 L203.4,411.63 L203.7,412.90 L204.0,414.29 L204.3,415.78 L204.6,417.35 L204.9,418.98 L205.2,420.65 L205.5,422.32 L205.8,424.00 L206.1,425.64 L206.4,427.25 L206.7,428.80 L207.0,430.28 L207.3,431.69 L207.6,433.01" fill="none" stroke="#52dcd2" stroke-width="3.3" stroke-linejoin="round"/>
<path d="M207.2,431.23 L207.5,432.58 L207.8,433.84 L208.1,435.00 L208.4,436.07 L208.7,437.05 L209.0,437.93 L209.3,438.73 L209.6,439.44 L209.9,440.06 L210.2,440.61 L210.5,441.09 L210.8,441.50 L211.1,441.86 L211.4,442.16 L211.7,442.42 L212.0,442.64 L212.3,442.82 L212.6,442.97 L212.9,443.10 L213.2,443.20 L213.5,443.28 L213.8,443.35 L214.1,443.41 L214.4,443.45 L214.7,443.48 L215.0,443.51 L215.3,443.53 L215.6,443.55 L215.9,443.56 L216.2,443.57 L216.5,443.58 L216.8,443.58 L217.1,443.59 L217.4,443.59 L217.7,443.59 L218.0,443.60 L218.3,443.60 L218.6,443.60 L218.9,443.60 L219.2,443.60 L219.5,443.60 L219.8,443.60 L220.1,443.60 L220.4,443.60 L220.7,443.60 L221.0,443.60 L221.3,443.60 L221.6,443.60 L221.9,443.60 L222.2,443.60 L222.5,443.60 L222.8,443.60 L223.1,443.60 L223.4,443.60 L223.7,443.60 L224.0,443.60 L224.3,443.60 L224.6,443.60 L224.9,443.60 L225.2,443.60 L225.5,443.60 L225.8,443.60 L226.1,443.60 L226.4,443.60 L226.7,443.60 L227.0,443.60 L227.3,443.60 L227.6,443.60 L227.9,443.60 L228.2,443.60 L228.5,443.60 L228.8,443.60 L229.1,443.60 L229.4,443.60 L229.7,443.60 L230.0,443.60 L230.3,443.60 L230.6,443.60 L230.9,443.60 L231.2,443.60 L231.5,443.60 L231.8,443.60 L232.1,443.60 L232.4,443.60 L232.7,443.60 L233.0,443.60" fill="none" stroke="#52dcd2" stroke-width="4.6" stroke-linejoin="round"/>
<text x="58.5" y="458" font-size="9.4" text-anchor="middle">0.0</text>
<text x="130.5" y="458" font-size="9.4" text-anchor="middle">6.0</text>
<text x="203" y="458" font-size="9.4" text-anchor="middle">12.0</text>
<text x="74.5" y="475.4" font-size="10.8">Superdex 200</text>
<text x="152" y="476.2" font-size="9.6">V<tspan dy="2.7" font-size="6.0">e</tspan><tspan dy="-2.7">- V</tspan><tspan dy="2.7" font-size="6.0">O</tspan><tspan dy="-2.7"> (ml)</tspan></text>
<path d="M176.2,319 L176.2,369.6 L248.9,369.6 L248.9,319" fill="none" stroke="#777" stroke-width="0.8"/><path d="M176.7,363.72 L177.2,363.41 L177.7,363.09 L178.2,362.75 L178.7,362.40 L179.2,362.03 L179.7,361.65 L180.2,361.25 L180.7,360.84 L181.2,360.41 L181.7,359.96 L182.2,359.50 L182.7,359.01 L183.2,358.52 L183.7,358.00 L184.2,357.47 L184.7,356.93 L185.2,356.36 L185.7,355.78 L186.2,355.19 L186.7,354.58 L187.2,353.95 L187.7,353.31 L188.2,352.65 L188.7,351.98 L189.2,351.30 L189.7,350.61 L190.2,349.90 L190.7,349.18 L191.2,348.46 L191.7,347.72 L192.2,346.98 L192.7,346.22 L193.2,345.47 L193.7,344.70 L194.2,343.94 L194.7,343.17 L195.2,342.40 L195.7,341.63 L196.2,340.86 L196.7,340.09 L197.2,339.33 L197.7,338.57 L198.2,337.82 L198.7,337.08 L199.2,336.35 L199.7,335.63 L200.2,334.93 L200.7,334.24 L201.2,333.56 L201.7,332.90 L202.2,332.26 L202.7,331.65 L203.2,331.05 L203.7,330.48 L204.2,329.93 L204.7,329.41 L205.2,328.91 L205.7,328.45 L206.2,328.01 L206.7,327.60 L207.2,327.23 L207.7,326.89 L208.2,326.58 L208.7,326.31 L209.2,326.07 L209.7,325.86 L210.2,325.70 L210.7,325.57 L211.2,325.47 L211.7,325.42 L212.2,325.40 L212.7,325.42 L213.2,325.47 L213.7,325.57 L214.2,325.70 L214.7,325.86 L215.2,326.07 L215.7,326.31 L216.2,326.58 L216.7,326.89 L217.2,327.23 L217.7,327.60 L218.2,328.01 L218.7,328.45 L219.2,328.91 L219.7,329.41 L220.2,329.93 L220.7,330.48 L221.2,331.05 L221.7,331.65 L222.2,332.26 L222.7,332.90 L223.2,333.56 L223.7,334.24 L224.2,334.93 L224.7,335.63 L225.2,336.35 L225.7,337.08 L226.2,337.82 L226.7,338.57 L227.2,339.33 L227.7,340.09 L228.2,340.86 L228.7,341.63 L229.2,342.40 L229.7,343.17 L230.2,343.94 L230.7,344.70 L231.2,345.47 L231.7,346.22 L232.2,346.98 L232.7,347.72 L233.2,348.46 L233.7,349.18 L234.2,349.90 L234.7,350.61 L235.2,351.30 L235.7,351.98 L236.2,352.65 L236.7,353.31 L237.2,353.95 L237.7,354.58 L238.2,355.19 L238.7,355.78 L239.2,356.36 L239.7,356.93 L240.2,357.47 L240.7,358.00 L241.2,358.52 L241.7,359.01 L242.2,359.50 L242.7,359.96 L243.2,360.41 L243.7,360.84 L244.2,361.25 L244.7,361.65 L245.2,362.03 L245.7,362.40 L246.2,362.75 L246.7,363.09 L247.2,363.41 L247.7,363.72 L248.2,364.01" fill="none" stroke="#52dcd2" stroke-width="2.6"/><path d="M188.3,348.4 Q210.0,349.2 231.7,348.4" fill="none" stroke="#c92f5c" stroke-width="2.5" stroke-linecap="round"/><text x="186.6" y="376.8" font-size="4.4" text-anchor="middle">6.7</text><text x="196.4" y="376.8" font-size="4.4" text-anchor="middle">6.9</text><text x="206.1" y="376.8" font-size="4.4" text-anchor="middle">7.1</text><text x="215.9" y="376.8" font-size="4.4" text-anchor="middle">7.3</text><text x="225.7" y="376.8" font-size="4.4" text-anchor="middle">7.5</text><text x="235.4" y="376.8" font-size="4.4" text-anchor="middle">7.7</text><text x="245.2" y="376.8" font-size="4.4" text-anchor="middle">7.9</text><text x="252.1" y="326.1" font-size="4.4">4.9</text><path d="M248.9,324.5 h1.6" stroke="#777" stroke-width="0.6"/><text x="252.1" y="336.6" font-size="4.4">4.7</text><path d="M248.9,335 h1.6" stroke="#777" stroke-width="0.6"/><text x="252.1" y="346.3" font-size="4.4">4.5</text><path d="M248.9,344.7 h1.6" stroke="#777" stroke-width="0.6"/><text x="252.1" y="356.4" font-size="4.4">4.1</text><path d="M248.9,354.8 h1.6" stroke="#777" stroke-width="0.6"/><text x="252.1" y="366.1" font-size="4.4">3.7</text><path d="M248.9,364.5 h1.6" stroke="#777" stroke-width="0.6"/><path d="M180,317 h5" stroke="#52dcd2" stroke-width="1.6"/><text x="187" y="318.5" font-size="4.2">RI</text><path d="M180,323 h5.5" stroke="#c92f5c" stroke-width="1.6"/><text x="187" y="324.5" font-size="4.2">Log MW</text><text transform="translate(172.8,346) rotate(-90)" font-size="6.8" text-anchor="middle">RI</text><text transform="translate(268.8,345) rotate(-90)" font-size="7.4" text-anchor="middle">Log MW</text><text x="193.3" y="387" font-size="7.4">V<tspan dy="2.1" font-size="4.6">e</tspan><tspan dy="-2.1">- V</tspan><tspan dy="2.1" font-size="4.6">O</tspan><tspan dy="-2.1"> (ml)</tspan></text>
<path d="M222.5,393.2 h7.7" stroke="#c92f5c" stroke-width="2.2"/><text x="235.8" y="395.8" font-size="8.9">UV</text><path d="M222.5,401.09999999999997 h7.7" stroke="#6c5fd6" stroke-width="2.2"/><text x="234" y="403.7" font-size="8.5">Light scattering</text><path d="M222.5,409.0 h7.7" stroke="#52dcd2" stroke-width="2.2"/><text x="234" y="411.6" font-size="8.5">Refractive index (RI)</text>
<path d="M34.7,497.4 H253.2" stroke="#555" stroke-width="0.9"/><path d="M143,486 V514.3 M196,486 V514.3" stroke="#888" stroke-width="0.8"/><text x="36" y="495.2" font-size="9.6" text-anchor="start" style="white-space:pre" xml:space="preserve">Expected Mass (kDa)</text><text x="167.6" y="495.2" font-size="9.6" text-anchor="middle" style="white-space:pre" xml:space="preserve">Mw/Mn</text><text x="221.4" y="495.2" font-size="9.6" text-anchor="middle" style="white-space:pre" xml:space="preserve">Mw</text><text x="77" y="509.6" font-size="9.6" text-anchor="middle">25.2</text><text x="169.4" y="509.6" font-size="9.6" text-anchor="middle">1.000</text><text x="226.5" y="509.6" font-size="9.6" text-anchor="middle">26.1 ± 0.2</text>
<text x="373.5" y="247.3" font-size="24.5">C</text>
<text x="401.3" y="274.4" font-size="10.6">522</text>
<rect x="427.6" y="267.0" width="36.4" height="6.0" rx="2.6" fill="url(#mg)"/><rect x="427.1" y="266.5" width="36.4" height="7.0" fill="url(#fade)"/><path d="M427.1,268.9 L438.6,270.0 L427.1,271.1 Z" fill="#fff"/>
<text x="466" y="275.6" font-size="10.6">557</text>
<rect x="468.6" y="284.6" width="35.7" height="40.6" fill="url(#mgel)"/>
<g filter="url(#b3)"><path d="M470.5,300.4 Q482,297.8 492,298.8 T504.3,302.4 L504.3,306 Q498,306.4 490,305.6 T470.5,302.8 Z" fill="#46534f"/><path d="M470.5,311.6 Q474,309.2 487,309.2 T504,311.8 L504,314 Q500,312.8 487,312.8 T470.5,314.2 Z" fill="#9aa4a2"/></g>
<text x="418.5" y="303.3" font-size="9.6">CaM</text>
<path d="M440,299.6 L459.7,299.6 L459.7,297.7 L465.5,300.8 L459.7,303.90000000000003 L459.7,302.0 L440,302.0 Z" fill="#111"/>
<text x="418.5" y="317.4" font-size="9.6">Q4B</text>
<path d="M439,311.8 L459.7,311.8 L459.7,309.9 L465.5,313 L459.7,316.1 L459.7,314.2 L439,314.2 Z" fill="#111"/>
<path d="M435,334 L435,451.2 L617.5,451.2" fill="none" stroke="#777" stroke-width="0.9"/>
<text transform="translate(427.3,434.5) rotate(-90)" font-size="10.9">Normalized signal</text>
<path d="M435.5,447.00 L435.8,447.00 L436.1,447.00 L436.4,447.00 L436.7,447.00 L437.0,447.00 L437.3,447.00 L437.6,447.00 L437.9,447.00 L438.2,447.00 L438.5,447.00 L438.8,447.00 L439.1,447.00 L439.4,447.00 L439.7,447.00 L440.0,447.00 L440.3,447.00 L440.6,447.00 L440.9,447.00 L441.2,447.00 L441.5,447.00 L441.8,447.00 L442.1,447.00 L442.4,447.00 L442.7,447.00 L443.0,447.00 L443.3,447.00 L443.6,447.00 L443.9,447.00 L444.2,447.00 L444.5,447.00 L444.8,447.00 L445.1,447.00 L445.4,447.00 L445.7,447.00 L446.0,447.00 L446.3,447.00 L446.6,447.00 L446.9,447.00 L447.2,447.00 L447.5,447.00 L447.8,447.00 L448.1,447.00 L448.4,447.00 L448.7,447.00 L449.0,447.00 L449.3,447.00 L449.6,447.00 L449.9,447.00 L450.2,447.00 L450.5,447.00 L450.8,447.00 L451.1,447.00 L451.4,447.00 L451.7,447.00 L452.0,447.00 L452.3,447.00 L452.6,447.00 L452.9,447.00 L453.2,447.00 L453.5,447.00 L453.8,447.00 L454.1,447.00 L454.4,447.00 L454.7,447.00 L455.0,447.00 L455.3,447.00 L455.6,447.00 L455.9,447.00 L456.2,447.00 L456.5,447.00 L456.8,447.00 L457.1,447.00 L457.4,447.00 L457.7,447.00 L458.0,447.00 L458.3,447.00 L458.6,447.00 L458.9,447.00 L459.2,447.00 L459.5,447.00 L459.8,447.00 L460.1,447.00 L460.4,447.00 L460.7,447.00 L461.0,447.00 L461.3,447.00 L461.6,447.00 L461.9,447.00 L462.2,447.00 L462.5,447.00 L462.8,447.00 L463.1,447.00 L463.4,447.00 L463.7,447.00 L464.0,447.00 L464.3,447.00 L464.6,447.00 L464.9,447.00 L465.2,447.00 L465.5,447.00 L465.8,447.00 L466.1,447.00 L466.4,447.00 L466.7,447.00 L467.0,447.00 L467.3,447.00 L467.6,447.00 L467.9,447.00 L468.2,447.00 L468.5,447.00 L468.8,447.00 L469.1,447.00 L469.4,447.00 L469.7,447.00 L470.0,447.00 L470.3,447.00 L470.6,447.00 L470.9,447.00 L471.2,447.00 L471.5,447.00 L471.8,447.00 L472.1,447.00 L472.4,447.00 L472.7,447.00 L473.0,447.00 L473.3,447.00 L473.6,447.00 L473.9,447.00 L474.2,447.00 L474.5,447.00 L474.8,447.00 L475.1,447.00 L475.4,447.00 L475.7,447.00 L476.0,447.00 L476.3,447.00 L476.6,447.00 L476.9,447.00 L477.2,447.00 L477.5,447.00 L477.8,447.00 L478.1,447.00 L478.4,447.00 L478.7,447.00 L479.0,447.00 L479.3,447.00 L479.6,447.00 L479.9,447.00 L480.2,447.00 L480.5,447.00 L480.8,447.00 L481.1,447.00 L481.4,447.00 L481.7,447.00 L482.0,447.00 L482.3,447.00 L482.6,447.00 L482.9,447.00 L483.2,447.00 L483.5,447.00 L483.8,447.00 L484.1,447.00 L484.4,447.00 L484.7,447.00 L485.0,447.00 L485.3,447.00 L485.6,447.00 L485.9,447.00 L486.2,447.00 L486.5,447.00 L486.8,447.00 L487.1,447.00 L487.4,447.00 L487.7,447.00 L488.0,447.00 L488.3,447.00 L488.6,447.00 L488.9,447.00 L489.2,447.00 L489.5,447.00 L489.8,447.00 L490.1,447.00 L490.4,447.00 L490.7,447.00 L491.0,446.99 L491.3,446.99 L491.6,446.99 L491.9,446.98 L492.2,446.98 L492.5,446.97 L492.8,446.97 L493.1,446.96 L493.4,446.94 L493.7,446.93 L494.0,446.90 L494.3,446.88 L494.6,446.84 L494.9,446.80 L495.2,446.74 L495.5,446.67 L495.8,446.59 L496.1,446.48 L496.4,446.35 L496.7,446.19 L497.0,445.99 L497.3,445.75 L497.6,445.47 L497.9,445.12 L498.2,444.70 L498.5,444.21 L498.8,443.62 L499.1,442.93 L499.4,442.13 L499.7,441.19 L500.0,440.11 L500.3,438.86 L500.6,437.44 L500.9,435.82 L501.2,434.00 L501.5,431.96 L501.8,429.69 L502.1,427.18 L502.4,424.42 L502.7,421.41 L503.0,418.15 L503.3,414.64 L503.6,410.91 L503.9,406.95 L504.2,402.80 L504.5,398.48 L504.8,394.02 L505.1,389.46 L505.4,384.84 L505.7,380.21 L506.0,375.63 L506.3,371.15 L506.6,366.82 L506.9,362.71 L507.2,358.86 L507.5,355.34 L507.8,352.20 L508.1,349.48 L508.4,347.24 L508.7,345.49 L509.0,344.28 L509.3,343.63 L509.6,343.52 L509.9,343.78 L510.2,344.36 L510.5,345.26 L510.8,346.45 L511.1,347.94 L511.4,349.70 L511.7,351.72 L512.0,353.99 L512.3,356.47 L512.6,359.16 L512.9,362.02 L513.2,365.03 L513.5,368.16 L513.8,371.40 L514.1,374.71 L514.4,378.08 L514.7,381.47 L515.0,384.88 L515.3,388.26 L515.6,391.61 L515.9,394.91 L516.2,398.13 L516.5,401.27 L516.8,404.31 L517.1,407.24 L517.4,410.06 L517.7,412.74 L518.0,415.30 L518.3,417.72 L518.6,420.00 L518.9,422.15 L519.2,424.15 L519.5,426.02 L519.8,427.76 L520.1,429.36 L520.4,430.85 L520.7,432.21 L521.0,433.45 L521.3,434.59 L521.6,435.63 L521.9,436.57 L522.2,437.42 L522.5,438.18 L522.8,438.88 L523.1,439.50 L523.4,440.05 L523.7,440.55 L524.0,441.00 L524.3,441.40 L524.6,441.76 L524.9,442.08 L525.2,442.37 L525.5,442.63 L525.8,442.86 L526.1,443.08 L526.4,443.27 L526.7,443.45 L527.0,443.61 L527.3,443.76 L527.6,443.89 L527.9,444.02 L528.2,444.14 L528.5,444.25 L528.8,444.35 L529.1,444.44 L529.4,444.54 L529.7,444.62 L530.0,444.70 L530.3,444.78 L530.6,444.85 L530.9,444.91 L531.2,444.98 L531.5,445.04 L531.8,445.09 L532.1,445.15 L532.4,445.20 L532.7,445.25 L533.0,445.29 L533.3,445.33 L533.6,445.37 L533.9,445.41 L534.2,445.44 L534.5,445.48 L534.8,445.51 L535.1,445.54 L535.4,445.57 L535.7,445.59 L536.0,445.61 L536.3,445.64 L536.6,445.66 L536.9,445.68 L537.2,445.69 L537.5,445.71 L537.8,445.73 L538.1,445.74 L538.4,445.75 L538.7,445.77 L539.0,445.78 L539.3,445.79 L539.6,445.80 L539.9,445.81 L540.2,445.82 L540.5,445.82 L540.8,445.83 L541.1,445.84 L541.4,445.84 L541.7,445.85 L542.0,445.85 L542.3,445.86 L542.6,445.86 L542.9,445.87 L543.2,445.87 L543.5,445.87 L543.8,445.87 L544.1,445.88 L544.4,445.88 L544.7,445.88 L545.0,445.88 L545.3,445.89 L545.6,445.89 L545.9,445.89 L546.2,445.89 L546.5,445.89 L546.8,445.89 L547.1,445.89 L547.4,445.89 L547.7,445.89 L548.0,445.89 L548.3,445.90 L548.6,445.90 L548.9,445.90 L549.2,445.90 L549.5,445.90 L549.8,445.90 L550.1,445.90 L550.4,445.90 L550.7,445.90 L551.0,445.90 L551.3,445.90 L551.6,445.90 L551.9,445.90 L552.2,445.90 L552.5,445.90 L552.8,445.90 L553.1,445.90 L553.4,445.90 L553.7,445.90 L554.0,445.90 L554.3,445.90 L554.6,445.90 L554.9,445.90 L555.2,445.90 L555.5,445.90 L555.8,445.90 L556.1,445.90 L556.4,445.90 L556.7,445.90 L557.0,445.90 L557.3,445.90 L557.6,445.90 L557.9,445.90 L558.2,445.90 L558.5,445.90 L558.8,445.90 L559.1,445.90 L559.4,445.90 L559.7,445.90 L560.0,445.90 L560.3,445.90 L560.6,445.90 L560.9,445.90 L561.2,445.90 L561.5,445.90 L561.8,445.90 L562.1,445.90 L562.4,445.90 L562.7,445.90 L563.0,445.90 L563.3,445.90 L563.6,445.90 L563.9,445.90 L564.2,445.90 L564.5,445.90 L564.8,445.90 L565.1,445.90 L565.4,445.90 L565.7,445.90 L566.0,445.90 L566.3,445.90 L566.6,445.90 L566.9,445.90 L567.2,445.90 L567.5,445.90 L567.8,445.90 L568.1,445.90 L568.4,445.90 L568.7,445.90 L569.0,445.90 L569.3,445.90 L569.6,445.90 L569.9,445.90 L570.2,445.90 L570.5,445.90 L570.8,445.90 L571.1,445.90 L571.4,445.90 L571.7,445.90 L572.0,445.90 L572.3,445.90 L572.6,445.90 L572.9,445.90 L573.2,445.90 L573.5,445.90 L573.8,445.90 L574.1,445.90 L574.4,445.90 L574.7,445.90 L575.0,445.90 L575.3,445.90 L575.6,445.90 L575.9,445.90 L576.2,445.90 L576.5,445.90 L576.8,445.90 L577.1,445.90 L577.4,445.90 L577.7,445.90 L578.0,445.90 L578.3,445.90 L578.6,445.90 L578.9,445.90 L579.2,445.90 L579.5,445.90 L579.8,445.90 L580.1,445.90 L580.4,445.90 L580.7,445.90 L581.0,445.90 L581.3,445.90 L581.6,445.90 L581.9,445.90 L582.2,445.90 L582.5,445.90 L582.8,445.90 L583.1,445.90 L583.4,445.90 L583.7,445.90 L584.0,445.90 L584.3,445.90 L584.6,445.90 L584.9,445.90 L585.2,445.90 L585.5,445.90 L585.8,445.90 L586.1,445.90 L586.4,445.90 L586.7,445.90 L587.0,445.90 L587.3,445.90 L587.6,445.90 L587.9,445.90 L588.2,445.90 L588.5,445.90 L588.8,445.90 L589.1,445.90 L589.4,445.90 L589.7,445.90 L590.0,445.90 L590.3,445.90 L590.6,445.90 L590.9,445.90 L591.2,445.90 L591.5,445.90 L591.8,445.90 L592.1,445.90 L592.4,445.90 L592.7,445.90 L593.0,445.90 L593.3,445.90 L593.6,445.90 L593.9,445.90 L594.2,445.90 L594.5,445.90 L594.8,445.90 L595.1,445.90 L595.4,445.90 L595.7,445.90 L596.0,445.90 L596.3,445.90 L596.6,445.90 L596.9,445.90 L597.2,445.90 L597.5,445.90 L597.8,445.90 L598.1,445.90 L598.4,445.90 L598.7,445.90 L599.0,445.90 L599.3,445.90 L599.6,445.90 L599.9,445.90 L600.2,445.90 L600.5,445.90 L600.8,445.90 L601.1,445.90 L601.4,445.90 L601.7,445.90 L602.0,445.90 L602.3,445.90 L602.6,445.90 L602.9,445.90 L603.2,445.90 L603.5,445.90 L603.8,445.90 L604.1,445.90 L604.4,445.90 L604.7,445.90 L605.0,445.90 L605.3,445.90 L605.6,445.90 L605.9,445.90 L606.2,445.90 L606.5,445.90 L606.8,445.90 L607.1,445.90 L607.4,445.90 L607.7,445.90 L608.0,445.90 L608.3,445.90 L608.6,445.90 L608.9,445.90 L609.2,445.90 L609.5,445.90 L609.8,445.90 L610.1,445.90 L610.4,445.90 L610.7,445.90 L611.0,445.90 L611.3,445.90 L611.6,445.90 L611.9,445.90 L612.2,445.90 L612.5,445.90 L612.8,445.90 L613.1,445.90 L613.4,445.90 L613.7,445.90 L614.0,445.90 L614.3,445.90 L614.6,445.90 L614.9,445.90 L615.2,445.90 L615.5,445.90 L615.8,445.90 L616.1,445.90 L616.4,445.90 L616.7,445.90 L617.0,445.90 L617.3,445.90" fill="none" stroke="#c92f5c" stroke-width="3.0" transform="translate(0,-0.5)"/>
<path d="M435.5,447.00 L435.8,447.00 L436.1,447.00 L436.4,447.00 L436.7,447.00 L437.0,447.00 L437.3,447.00 L437.6,447.00 L437.9,447.00 L438.2,447.00 L438.5,447.00 L438.8,447.00 L439.1,447.00 L439.4,447.00 L439.7,447.00 L440.0,447.00 L440.3,447.00 L440.6,447.00 L440.9,447.00 L441.2,447.00 L441.5,447.00 L441.8,447.00 L442.1,447.00 L442.4,447.00 L442.7,447.00 L443.0,447.00 L443.3,447.00 L443.6,447.00 L443.9,447.00 L444.2,447.00 L444.5,447.00 L444.8,447.00 L445.1,447.00 L445.4,447.00 L445.7,447.00 L446.0,447.00 L446.3,447.00 L446.6,447.00 L446.9,447.00 L447.2,447.00 L447.5,447.00 L447.8,447.00 L448.1,447.00 L448.4,447.00 L448.7,447.00 L449.0,447.00 L449.3,447.00 L449.6,447.00 L449.9,447.00 L450.2,447.00 L450.5,447.00 L450.8,447.00 L451.1,447.00 L451.4,447.00 L451.7,447.00 L452.0,447.00 L452.3,447.00 L452.6,447.00 L452.9,447.00 L453.2,447.00 L453.5,447.00 L453.8,447.00 L454.1,447.00 L454.4,447.00 L454.7,447.00 L455.0,447.00 L455.3,447.00 L455.6,447.00 L455.9,447.00 L456.2,447.00 L456.5,447.00 L456.8,447.00 L457.1,447.00 L457.4,447.00 L457.7,447.00 L458.0,447.00 L458.3,447.00 L458.6,447.00 L458.9,447.00 L459.2,447.00 L459.5,447.00 L459.8,447.00 L460.1,447.00 L460.4,447.00 L460.7,447.00 L461.0,447.00 L461.3,447.00 L461.6,447.00 L461.9,447.00 L462.2,447.00 L462.5,447.00 L462.8,447.00 L463.1,447.00 L463.4,447.00 L463.7,447.00 L464.0,447.00 L464.3,447.00 L464.6,447.00 L464.9,447.00 L465.2,447.00 L465.5,447.00 L465.8,447.00 L466.1,447.00 L466.4,447.00 L466.7,447.00 L467.0,447.00 L467.3,447.00 L467.6,447.00 L467.9,447.00 L468.2,447.00 L468.5,447.00 L468.8,447.00 L469.1,447.00 L469.4,447.00 L469.7,447.00 L470.0,447.00 L470.3,447.00 L470.6,447.00 L470.9,447.00 L471.2,447.00 L471.5,447.00 L471.8,447.00 L472.1,447.00 L472.4,447.00 L472.7,447.00 L473.0,447.00 L473.3,447.00 L473.6,447.00 L473.9,447.00 L474.2,447.00 L474.5,447.00 L474.8,447.00 L475.1,447.00 L475.4,447.00 L475.7,447.00 L476.0,447.00 L476.3,447.00 L476.6,447.00 L476.9,447.00 L477.2,447.00 L477.5,447.00 L477.8,447.00 L478.1,447.00 L478.4,447.00 L478.7,447.00 L479.0,447.00 L479.3,447.00 L479.6,447.00 L479.9,447.00 L480.2,447.00 L480.5,447.00 L480.8,447.00 L481.1,447.00 L481.4,447.00 L481.7,447.00 L482.0,447.00 L482.3,447.00 L482.6,447.00 L482.9,447.00 L483.2,447.00 L483.5,447.00 L483.8,447.00 L484.1,447.00 L484.4,447.00 L484.7,447.00 L485.0,447.00 L485.3,447.00 L485.6,447.00 L485.9,447.00 L486.2,447.00 L486.5,447.00 L486.8,447.00 L487.1,447.00 L487.4,447.00 L487.7,447.00 L488.0,447.00 L488.3,447.00 L488.6,447.00 L488.9,447.00 L489.2,447.00 L489.5,447.00 L489.8,447.00 L490.1,447.00 L490.4,447.00 L490.7,447.00 L491.0,446.99 L491.3,446.99 L491.6,446.99 L491.9,446.99 L492.2,446.98 L492.5,446.97 L492.8,446.97 L493.1,446.96 L493.4,446.94 L493.7,446.93 L494.0,446.91 L494.3,446.88 L494.6,446.84 L494.9,446.80 L495.2,446.75 L495.5,446.68 L495.8,446.60 L496.1,446.49 L496.4,446.36 L496.7,446.21 L497.0,446.01 L497.3,445.78 L497.6,445.49 L497.9,445.15 L498.2,444.75 L498.5,444.26 L498.8,443.69 L499.1,443.01 L499.4,442.22 L499.7,441.30 L500.0,440.24 L500.3,439.02 L500.6,437.62 L500.9,436.04 L501.2,434.25 L501.5,432.25 L501.8,430.02 L502.1,427.56 L502.4,424.85 L502.7,421.90 L503.0,418.70 L503.3,415.27 L503.6,411.60 L503.9,407.72 L504.2,403.65 L504.5,399.41 L504.8,395.04 L505.1,390.57 L505.4,386.04 L505.7,381.51 L506.0,377.01 L506.3,372.62 L506.6,368.37 L506.9,364.34 L507.2,360.56 L507.5,357.11 L507.8,354.03 L508.1,351.37 L508.4,349.16 L508.7,347.45 L509.0,346.27 L509.3,345.62 L509.6,345.52 L509.9,345.78 L510.2,346.35 L510.5,347.22 L510.8,348.40 L511.1,349.85 L511.4,351.58 L511.7,353.57 L512.0,355.79 L512.3,358.22 L512.6,360.85 L512.9,363.66 L513.2,366.61 L513.5,369.69 L513.8,372.86 L514.1,376.11 L514.4,379.41 L514.7,382.74 L515.0,386.08 L515.3,389.40 L515.6,392.68 L515.9,395.91 L516.2,399.08 L516.5,402.15 L516.8,405.14 L517.1,408.01 L517.4,410.77 L517.7,413.41 L518.0,415.91 L518.3,418.28 L518.6,420.52 L518.9,422.62 L519.2,424.59 L519.5,426.42 L519.8,428.13 L520.1,429.70 L520.4,431.15 L520.7,432.49 L521.0,433.71 L521.3,434.83 L521.6,435.84 L521.9,436.76 L522.2,437.60 L522.5,438.35 L522.8,439.02 L523.1,439.63 L523.4,440.18 L523.7,440.67 L524.0,441.11 L524.3,441.50 L524.6,441.85 L524.9,442.16 L525.2,442.45 L525.5,442.70 L525.8,442.93 L526.1,443.14 L526.4,443.33 L526.7,443.50 L527.0,443.66 L527.3,443.80 L527.6,443.93 L527.9,444.06 L528.2,444.17 L528.5,444.28 L528.8,444.38 L529.1,444.47 L529.4,444.56 L529.7,444.65 L530.0,444.72 L530.3,444.80 L530.6,444.87 L530.9,444.93 L531.2,445.00 L531.5,445.05 L531.8,445.11 L532.1,445.16 L532.4,445.21 L532.7,445.26 L533.0,445.30 L533.3,445.34 L533.6,445.38 L533.9,445.42 L534.2,445.45 L534.5,445.49 L534.8,445.52 L535.1,445.55 L535.4,445.57 L535.7,445.60 L536.0,445.62 L536.3,445.64 L536.6,445.66 L536.9,445.68 L537.2,445.70 L537.5,445.72 L537.8,445.73 L538.1,445.74 L538.4,445.76 L538.7,445.77 L539.0,445.78 L539.3,445.79 L539.6,445.80 L539.9,445.81 L540.2,445.82 L540.5,445.82 L540.8,445.83 L541.1,445.84 L541.4,445.84 L541.7,445.85 L542.0,445.85 L542.3,445.86 L542.6,445.86 L542.9,445.87 L543.2,445.87 L543.5,445.87 L543.8,445.87 L544.1,445.88 L544.4,445.88 L544.7,445.88 L545.0,445.88 L545.3,445.89 L545.6,445.89 L545.9,445.89 L546.2,445.89 L546.5,445.89 L546.8,445.89 L547.1,445.89 L547.4,445.89 L547.7,445.89 L548.0,445.89 L548.3,445.90 L548.6,445.90 L548.9,445.90 L549.2,445.90 L549.5,445.90 L549.8,445.90 L550.1,445.90 L550.4,445.90 L550.7,445.90 L551.0,445.90 L551.3,445.90 L551.6,445.90 L551.9,445.90 L552.2,445.90 L552.5,445.90 L552.8,445.90 L553.1,445.90 L553.4,445.90 L553.7,445.90 L554.0,445.90 L554.3,445.90 L554.6,445.90 L554.9,445.90 L555.2,445.90 L555.5,445.90 L555.8,445.90 L556.1,445.90 L556.4,445.90 L556.7,445.90 L557.0,445.90 L557.3,445.90 L557.6,445.90 L557.9,445.90 L558.2,445.90 L558.5,445.90 L558.8,445.90 L559.1,445.90 L559.4,445.90 L559.7,445.90 L560.0,445.90 L560.3,445.90 L560.6,445.90 L560.9,445.90 L561.2,445.90 L561.5,445.90 L561.8,445.90 L562.1,445.90 L562.4,445.90 L562.7,445.90 L563.0,445.90 L563.3,445.90 L563.6,445.90 L563.9,445.90 L564.2,445.90 L564.5,445.90 L564.8,445.90 L565.1,445.90 L565.4,445.90 L565.7,445.90 L566.0,445.90 L566.3,445.90 L566.6,445.90 L566.9,445.90 L567.2,445.90 L567.5,445.90 L567.8,445.90 L568.1,445.90 L568.4,445.90 L568.7,445.90 L569.0,445.90 L569.3,445.90 L569.6,445.90 L569.9,445.90 L570.2,445.90 L570.5,445.90 L570.8,445.90 L571.1,445.90 L571.4,445.90 L571.7,445.90 L572.0,445.90 L572.3,445.90 L572.6,445.90 L572.9,445.90 L573.2,445.90 L573.5,445.90 L573.8,445.90 L574.1,445.90 L574.4,445.90 L574.7,445.90 L575.0,445.90 L575.3,445.90 L575.6,445.90 L575.9,445.90 L576.2,445.90 L576.5,445.90 L576.8,445.90 L577.1,445.90 L577.4,445.90 L577.7,445.90 L578.0,445.90 L578.3,445.90 L578.6,445.90 L578.9,445.90 L579.2,445.90 L579.5,445.90 L579.8,445.90 L580.1,445.90 L580.4,445.90 L580.7,445.90 L581.0,445.90 L581.3,445.90 L581.6,445.90 L581.9,445.90 L582.2,445.90 L582.5,445.90 L582.8,445.90 L583.1,445.90 L583.4,445.90 L583.7,445.90 L584.0,445.90 L584.3,445.90 L584.6,445.90 L584.9,445.90 L585.2,445.90 L585.5,445.90 L585.8,445.90 L586.1,445.90 L586.4,445.90 L586.7,445.90 L587.0,445.90 L587.3,445.90 L587.6,445.90 L587.9,445.90 L588.2,445.90 L588.5,445.90 L588.8,445.90 L589.1,445.90 L589.4,445.90 L589.7,445.90 L590.0,445.90 L590.3,445.90 L590.6,445.90 L590.9,445.90 L591.2,445.90 L591.5,445.90 L591.8,445.90 L592.1,445.90 L592.4,445.90 L592.7,445.90 L593.0,445.90 L593.3,445.90 L593.6,445.90 L593.9,445.90 L594.2,445.90 L594.5,445.90 L594.8,445.90 L595.1,445.90 L595.4,445.90 L595.7,445.90 L596.0,445.90 L596.3,445.90 L596.6,445.90 L596.9,445.90 L597.2,445.90 L597.5,445.90 L597.8,445.90 L598.1,445.90 L598.4,445.90 L598.7,445.90 L599.0,445.90 L599.3,445.90 L599.6,445.90 L599.9,445.90 L600.2,445.90 L600.5,445.90 L600.8,445.90 L601.1,445.90 L601.4,445.90 L601.7,445.90 L602.0,445.90 L602.3,445.90 L602.6,445.90 L602.9,445.90 L603.2,445.90 L603.5,445.90 L603.8,445.90 L604.1,445.90 L604.4,445.90 L604.7,445.90 L605.0,445.90 L605.3,445.90 L605.6,445.90 L605.9,445.90 L606.2,445.90 L606.5,445.90 L606.8,445.90 L607.1,445.90 L607.4,445.90 L607.7,445.90 L608.0,445.90 L608.3,445.90 L608.6,445.90 L608.9,445.90 L609.2,445.90 L609.5,445.90 L609.8,445.90 L610.1,445.90 L610.4,445.90 L610.7,445.90 L611.0,445.90 L611.3,445.90 L611.6,445.90 L611.9,445.90 L612.2,445.90 L612.5,445.90 L612.8,445.90 L613.1,445.90 L613.4,445.90 L613.7,445.90 L614.0,445.90 L614.3,445.90 L614.6,445.90 L614.9,445.90 L615.2,445.90 L615.5,445.90 L615.8,445.90 L616.1,445.90 L616.4,445.90 L616.7,445.90 L617.0,445.90 L617.3,445.90" fill="none" stroke="#6c5fd6" stroke-width="3.7" transform="translate(0,0.2)"/>
<path d="M435.5,447.90 L435.8,447.90 L436.1,447.90 L436.4,447.90 L436.7,447.90 L437.0,447.90 L437.3,447.90 L437.6,447.90 L437.9,447.90 L438.2,447.90 L438.5,447.90 L438.8,447.90 L439.1,447.90 L439.4,447.90 L439.7,447.90 L440.0,447.90 L440.3,447.90 L440.6,447.90 L440.9,447.90 L441.2,447.90 L441.5,447.90 L441.8,447.90 L442.1,447.90 L442.4,447.90 L442.7,447.90 L443.0,447.90 L443.3,447.90 L443.6,447.90 L443.9,447.90 L444.2,447.90 L444.5,447.90 L444.8,447.90 L445.1,447.90 L445.4,447.90 L445.7,447.90 L446.0,447.90 L446.3,447.90 L446.6,447.90 L446.9,447.90 L447.2,447.90 L447.5,447.90 L447.8,447.90 L448.1,447.90 L448.4,447.90 L448.7,447.90 L449.0,447.90 L449.3,447.90 L449.6,447.90 L449.9,447.90 L450.2,447.90 L450.5,447.90 L450.8,447.90 L451.1,447.90 L451.4,447.90 L451.7,447.90 L452.0,447.90 L452.3,447.90 L452.6,447.90 L452.9,447.90 L453.2,447.90 L453.5,447.90 L453.8,447.90 L454.1,447.90 L454.4,447.90 L454.7,447.90 L455.0,447.90 L455.3,447.90 L455.6,447.90 L455.9,447.90 L456.2,447.90 L456.5,447.90 L456.8,447.90 L457.1,447.90 L457.4,447.90 L457.7,447.90 L458.0,447.90 L458.3,447.90 L458.6,447.90 L458.9,447.90 L459.2,447.90 L459.5,447.90 L459.8,447.90 L460.1,447.90 L460.4,447.90 L460.7,447.90 L461.0,447.90 L461.3,447.90 L461.6,447.90 L461.9,447.90 L462.2,447.90 L462.5,447.90 L462.8,447.90 L463.1,447.90 L463.4,447.90 L463.7,447.90 L464.0,447.90 L464.3,447.90 L464.6,447.90 L464.9,447.90 L465.2,447.90 L465.5,447.90 L465.8,447.90 L466.1,447.90 L466.4,447.90 L466.7,447.90 L467.0,447.90 L467.3,447.90 L467.6,447.90 L467.9,447.90 L468.2,447.90 L468.5,447.90 L468.8,447.90 L469.1,447.90 L469.4,447.90 L469.7,447.90 L470.0,447.90 L470.3,447.90 L470.6,447.90 L470.9,447.90 L471.2,447.90 L471.5,447.90 L471.8,447.90 L472.1,447.90 L472.4,447.90 L472.7,447.90 L473.0,447.90 L473.3,447.90 L473.6,447.90 L473.9,447.90 L474.2,447.90 L474.5,447.90 L474.8,447.90 L475.1,447.90 L475.4,447.90 L475.7,447.90 L476.0,447.90 L476.3,447.90 L476.6,447.90 L476.9,447.90 L477.2,447.90 L477.5,447.90 L477.8,447.90 L478.1,447.90 L478.4,447.90 L478.7,447.90 L479.0,447.90 L479.3,447.90 L479.6,447.90 L479.9,447.90 L480.2,447.90 L480.5,447.90 L480.8,447.90 L481.1,447.90 L481.4,447.90 L481.7,447.90 L482.0,447.90 L482.3,447.90 L482.6,447.90 L482.9,447.90 L483.2,447.90 L483.5,447.90 L483.8,447.90 L484.1,447.90 L484.4,447.90 L484.7,447.90 L485.0,447.90 L485.3,447.90 L485.6,447.90 L485.9,447.90 L486.2,447.90 L486.5,447.90 L486.8,447.90 L487.1,447.90 L487.4,447.90 L487.7,447.90 L488.0,447.90 L488.3,447.90 L488.6,447.90 L488.9,447.90 L489.2,447.90 L489.5,447.90 L489.8,447.90 L490.1,447.90 L490.4,447.90 L490.7,447.90 L491.0,447.90 L491.3,447.90 L491.6,447.90 L491.9,447.89 L492.2,447.89 L492.5,447.89 L492.8,447.89 L493.1,447.88 L493.4,447.87 L493.7,447.87 L494.0,447.85 L494.3,447.84 L494.6,447.82 L494.9,447.80 L495.2,447.77 L495.5,447.73 L495.8,447.68 L496.1,447.62 L496.4,447.55 L496.7,447.45 L497.0,447.33 L497.3,447.18 L497.6,447.00 L497.9,446.77 L498.2,446.50 L498.5,446.16 L498.8,445.76 L499.1,445.28 L499.4,444.70 L499.7,444.02 L500.0,443.22 L500.3,442.28 L500.6,441.19 L500.9,439.94 L501.2,438.50 L501.5,436.86 L501.8,435.01 L502.1,432.93 L502.4,430.61 L502.7,428.05 L503.0,425.24 L503.3,422.19 L503.6,418.89 L503.9,415.35 L504.2,411.61 L504.5,407.66 L504.8,403.56 L505.1,399.32 L505.4,394.99 L505.7,390.62 L506.0,386.26 L506.3,381.96 L506.6,377.79 L506.9,373.80 L507.2,370.05 L507.5,366.60 L507.8,363.51 L508.1,360.83 L508.4,358.61 L508.7,356.88 L509.0,355.68 L509.3,355.03 L509.6,354.92 L509.9,355.18 L510.2,355.74 L510.5,356.61 L510.8,357.77 L511.1,359.21 L511.4,360.91 L511.7,362.87 L512.0,365.05 L512.3,367.44 L512.6,370.02 L512.9,372.75 L513.2,375.63 L513.5,378.61 L513.8,381.68 L514.1,384.81 L514.4,387.98 L514.7,391.16 L515.0,394.33 L515.3,397.47 L515.6,400.57 L515.9,403.59 L516.2,406.54 L516.5,409.40 L516.8,412.15 L517.1,414.78 L517.4,417.29 L517.7,419.68 L518.0,421.94 L518.3,424.06 L518.6,426.05 L518.9,427.90 L519.2,429.63 L519.5,431.23 L519.8,432.70 L520.1,434.06 L520.4,435.31 L520.7,436.45 L521.0,437.49 L521.3,438.43 L521.6,439.29 L521.9,440.07 L522.2,440.77 L522.5,441.40 L522.8,441.98 L523.1,442.49 L523.4,442.96 L523.7,443.37 L524.0,443.75 L524.3,444.09 L524.6,444.39 L524.9,444.67 L525.2,444.92 L525.5,445.15 L525.8,445.35 L526.1,445.54 L526.4,445.71 L526.7,445.87 L527.0,446.01 L527.3,446.14 L527.6,446.27 L527.9,446.38 L528.2,446.48 L528.5,446.58 L528.8,446.67 L529.1,446.75 L529.4,446.83 L529.7,446.91 L530.0,446.97 L530.3,447.04 L530.6,447.10 L530.9,447.16 L531.2,447.21 L531.5,447.26 L531.8,447.30 L532.1,447.35 L532.4,447.39 L532.7,447.43 L533.0,447.46 L533.3,447.50 L533.6,447.53 L533.9,447.56 L534.2,447.58 L534.5,447.61 L534.8,447.63 L535.1,447.65 L535.4,447.67 L535.7,447.69 L536.0,447.71 L536.3,447.73 L536.6,447.74 L536.9,447.75 L537.2,447.77 L537.5,447.78 L537.8,447.79 L538.1,447.80 L538.4,447.81 L538.7,447.82 L539.0,447.83 L539.3,447.83 L539.6,447.84 L539.9,447.84 L540.2,447.85 L540.5,447.85 L540.8,447.86 L541.1,447.86 L541.4,447.87 L541.7,447.87 L542.0,447.87 L542.3,447.88 L542.6,447.88 L542.9,447.88 L543.2,447.88 L543.5,447.88 L543.8,447.89 L544.1,447.89 L544.4,447.89 L544.7,447.89 L545.0,447.89 L545.3,447.89 L545.6,447.89 L545.9,447.89 L546.2,447.89 L546.5,447.90 L546.8,447.90 L547.1,447.90 L547.4,447.90 L547.7,447.90 L548.0,447.90 L548.3,447.90 L548.6,447.90 L548.9,447.90 L549.2,447.90 L549.5,447.90 L549.8,447.90 L550.1,447.90 L550.4,447.90 L550.7,447.90 L551.0,447.90 L551.3,447.90 L551.6,447.90 L551.9,447.90 L552.2,447.90 L552.5,447.90 L552.8,447.90 L553.1,447.90 L553.4,447.90 L553.7,447.90 L554.0,447.90 L554.3,447.90 L554.6,447.90 L554.9,447.90 L555.2,447.90 L555.5,447.90 L555.8,447.90 L556.1,447.90 L556.4,447.90 L556.7,447.90 L557.0,447.90 L557.3,447.90 L557.6,447.90 L557.9,447.90 L558.2,447.90 L558.5,447.90 L558.8,447.90 L559.1,447.90 L559.4,447.90 L559.7,447.90 L560.0,447.90 L560.3,447.90 L560.6,447.90 L560.9,447.90 L561.2,447.90 L561.5,447.90 L561.8,447.90 L562.1,447.90 L562.4,447.90 L562.7,447.90 L563.0,447.90 L563.3,447.90 L563.6,447.90 L563.9,447.90 L564.2,447.90 L564.5,447.90 L564.8,447.90 L565.1,447.90 L565.4,447.90 L565.7,447.90 L566.0,447.90 L566.3,447.90 L566.6,447.90 L566.9,447.90 L567.2,447.90 L567.5,447.90 L567.8,447.90 L568.1,447.90 L568.4,447.90 L568.7,447.90 L569.0,447.90 L569.3,447.90 L569.6,447.90 L569.9,447.90 L570.2,447.90 L570.5,447.90 L570.8,447.90 L571.1,447.90 L571.4,447.90 L571.7,447.90 L572.0,447.90 L572.3,447.90 L572.6,447.90 L572.9,447.90 L573.2,447.90 L573.5,447.90 L573.8,447.90 L574.1,447.90 L574.4,447.90 L574.7,447.90 L575.0,447.90 L575.3,447.90 L575.6,447.90 L575.9,447.90 L576.2,447.90 L576.5,447.90 L576.8,447.90 L577.1,447.90 L577.4,447.90 L577.7,447.90 L578.0,447.90 L578.3,447.90 L578.6,447.90 L578.9,447.90 L579.2,447.90 L579.5,447.90 L579.8,447.90 L580.1,447.90 L580.4,447.90 L580.7,447.90 L581.0,447.90 L581.3,447.90 L581.6,447.90 L581.9,447.90 L582.2,447.90 L582.5,447.90 L582.8,447.90 L583.1,447.90 L583.4,447.90 L583.7,447.90 L584.0,447.90 L584.3,447.90 L584.6,447.90 L584.9,447.90 L585.2,447.90 L585.5,447.90 L585.8,447.90 L586.1,447.90 L586.4,447.90 L586.7,447.90 L587.0,447.90 L587.3,447.90 L587.6,447.90 L587.9,447.90 L588.2,447.90 L588.5,447.90 L588.8,447.90 L589.1,447.90 L589.4,447.90 L589.7,447.90 L590.0,447.90 L590.3,447.90 L590.6,447.90 L590.9,447.90 L591.2,447.90 L591.5,447.90 L591.8,447.90 L592.1,447.90 L592.4,447.90 L592.7,447.90 L593.0,447.90 L593.3,447.90 L593.6,447.90 L593.9,447.90 L594.2,447.90 L594.5,447.90 L594.8,447.90 L595.1,447.90 L595.4,447.90 L595.7,447.90 L596.0,447.90 L596.3,447.90 L596.6,447.90 L596.9,447.90 L597.2,447.90 L597.5,447.90 L597.8,447.90 L598.1,447.90 L598.4,447.90 L598.7,447.90 L599.0,447.90 L599.3,447.90 L599.6,447.90 L599.9,447.90 L600.2,447.90 L600.5,447.90 L600.8,447.90 L601.1,447.90 L601.4,447.90 L601.7,447.90 L602.0,447.90 L602.3,447.90 L602.6,447.90 L602.9,447.90 L603.2,447.90 L603.5,447.90 L603.8,447.90 L604.1,447.90 L604.4,447.90 L604.7,447.90 L605.0,447.90 L605.3,447.90 L605.6,447.90 L605.9,447.90 L606.2,447.90 L606.5,447.90 L606.8,447.90 L607.1,447.90 L607.4,447.90 L607.7,447.90 L608.0,447.90 L608.3,447.90 L608.6,447.90 L608.9,447.90 L609.2,447.90 L609.5,447.90 L609.8,447.90 L610.1,447.90 L610.4,447.90 L610.7,447.90 L611.0,447.90 L611.3,447.90 L611.6,447.90 L611.9,447.90 L612.2,447.90 L612.5,447.90 L612.8,447.90 L613.1,447.90 L613.4,447.90 L613.7,447.90 L614.0,447.90 L614.3,447.90 L614.6,447.90 L614.9,447.90 L615.2,447.90 L615.5,447.90 L615.8,447.90 L616.1,447.90 L616.4,447.90 L616.7,447.90 L617.0,447.90 L617.3,447.90" fill="none" stroke="#52dcd2" stroke-width="3.6"/>
<path d="M583.0,447.55 L583.3,447.47 L583.6,447.38 L583.9,447.26 L584.2,447.13 L584.5,446.98 L584.8,446.79 L585.1,446.58 L585.4,446.34 L585.7,446.07 L586.0,445.76 L586.3,445.41 L586.6,445.02 L586.9,444.59 L587.2,444.12 L587.5,443.60 L587.8,443.03 L588.1,442.43 L588.4,441.78 L588.7,441.10 L589.0,440.38 L589.3,439.64 L589.6,438.87 L589.9,438.08 L590.2,437.29 L590.5,436.49 L590.8,435.71 L591.1,434.94 L591.4,434.20 L591.7,433.50 L592.0,432.86 L592.3,432.27 L592.6,431.75 L592.9,431.30 L593.2,430.94 L593.5,430.67 L593.8,430.49 L594.1,430.41 L594.4,430.42 L594.7,430.54 L595.0,430.75 L595.3,431.05 L595.6,431.44 L595.9,431.91 L596.2,432.46 L596.5,433.07 L596.8,433.73 L597.1,434.44 L597.4,435.19 L597.7,435.97 L598.0,436.76 L598.3,437.55 L598.6,438.34 L598.9,439.13 L599.2,439.89 L599.5,440.63 L599.8,441.33 L600.1,442.00 L600.4,442.64 L600.7,443.23 L601.0,443.77 L601.3,444.28 L601.6,444.74 L601.9,445.16 L602.2,445.53 L602.5,445.87 L602.8,446.17 L603.1,446.43 L603.4,446.66 L603.7,446.86 L604.0,447.03 L604.3,447.18 L604.6,447.30 L604.9,447.41 L605.2,447.50 L605.5,447.58 L605.8,447.64" fill="none" stroke="#52dcd2" stroke-width="2.7"/>
<text x="435.8" y="463.4" font-size="9.4" text-anchor="middle">0.0</text>
<text x="516.8" y="463.4" font-size="9.4" text-anchor="middle">5.0</text>
<text x="596" y="463.4" font-size="9.4" text-anchor="middle">10.0</text>
<text x="503" y="479.3" font-size="10.7">Superdex 75</text>
<text x="576.3" y="480" font-size="9.6">V<tspan dy="2.7" font-size="6.0">e</tspan><tspan dy="-2.7">- V</tspan><tspan dy="2.7" font-size="6.0">O</tspan><tspan dy="-2.7"> (ml)</tspan></text>
<path d="M541.4,325.3 L541.4,369.7 L620.6,369.7 L620.6,325.3" fill="none" stroke="#777" stroke-width="0.8"/><path d="M541.9,367.57 L542.4,367.47 L542.9,367.36 L543.4,367.24 L543.9,367.11 L544.4,366.97 L544.9,366.83 L545.4,366.67 L545.9,366.50 L546.4,366.32 L546.9,366.12 L547.4,365.92 L547.9,365.70 L548.4,365.47 L548.9,365.22 L549.4,364.96 L549.9,364.69 L550.4,364.40 L550.9,364.09 L551.4,363.77 L551.9,363.43 L552.4,363.07 L552.9,362.69 L553.4,362.30 L553.9,361.89 L554.4,361.46 L554.9,361.01 L555.4,360.55 L555.9,360.06 L556.4,359.56 L556.9,359.03 L557.4,358.49 L557.9,357.93 L558.4,357.35 L558.9,356.76 L559.4,356.14 L559.9,355.51 L560.4,354.86 L560.9,354.20 L561.4,353.52 L561.9,352.83 L562.4,352.13 L562.9,351.41 L563.4,350.68 L563.9,349.94 L564.4,349.20 L564.9,348.44 L565.4,347.68 L565.9,346.92 L566.4,346.15 L566.9,345.38 L567.4,344.62 L567.9,343.85 L568.4,343.09 L568.9,342.33 L569.4,341.58 L569.9,340.85 L570.4,340.12 L570.9,339.40 L571.4,338.71 L571.9,338.03 L572.4,337.36 L572.9,336.72 L573.4,336.11 L573.9,335.51 L574.4,334.95 L574.9,334.41 L575.4,333.90 L575.9,333.42 L576.4,332.98 L576.9,332.57 L577.4,332.20 L577.9,331.86 L578.4,331.56 L578.9,331.30 L579.4,331.08 L579.9,330.90 L580.4,330.76 L580.9,330.67 L581.4,330.61 L581.9,330.60 L582.4,330.63 L582.9,330.69 L583.4,330.78 L583.9,330.91 L584.4,331.08 L584.9,331.28 L585.4,331.52 L585.9,331.78 L586.4,332.08 L586.9,332.41 L587.4,332.77 L587.9,333.17 L588.4,333.58 L588.9,334.03 L589.4,334.50 L589.9,335.00 L590.4,335.52 L590.9,336.06 L591.4,336.62 L591.9,337.20 L592.4,337.79 L592.9,338.40 L593.4,339.03 L593.9,339.67 L594.4,340.32 L594.9,340.98 L595.4,341.65 L595.9,342.32 L596.4,343.00 L596.9,343.68 L597.4,344.36 L597.9,345.05 L598.4,345.73 L598.9,346.41 L599.4,347.09 L599.9,347.76 L600.4,348.43 L600.9,349.09 L601.4,349.74 L601.9,350.39 L602.4,351.02 L602.9,351.65 L603.4,352.26 L603.9,352.86 L604.4,353.45 L604.9,354.03 L605.4,354.59 L605.9,355.14 L606.4,355.68 L606.9,356.20 L607.4,356.70 L607.9,357.19 L608.4,357.67 L608.9,358.13 L609.4,358.58 L609.9,359.01 L610.4,359.42 L610.9,359.82 L611.4,360.21 L611.9,360.58 L612.4,360.94 L612.9,361.28 L613.4,361.61 L613.9,361.92 L614.4,362.22 L614.9,362.51 L615.4,362.78 L615.9,363.05 L616.4,363.30 L616.9,363.54 L617.4,363.77 L617.9,363.99 L618.4,364.19 L618.9,364.39 L619.4,364.58 L619.9,364.76" fill="none" stroke="#52dcd2" stroke-width="2.6"/><path d="M566.7,346.6 Q582.85,343.0 599,345.0" fill="none" stroke="#c92f5c" stroke-width="2.5" stroke-linecap="round"/><text x="551.7" y="376.9" font-size="4.4" text-anchor="middle">4.0</text><text x="562.5" y="376.9" font-size="4.4" text-anchor="middle">4.2</text><text x="573.3" y="376.9" font-size="4.4" text-anchor="middle">4.4</text><text x="584.2" y="376.9" font-size="4.4" text-anchor="middle">4.6</text><text x="595.0" y="376.9" font-size="4.4" text-anchor="middle">4.8</text><text x="605.8" y="376.9" font-size="4.4" text-anchor="middle">5.0</text><text x="616.6" y="376.9" font-size="4.4" text-anchor="middle">5.2</text><text x="623.8000000000001" y="328.5" font-size="4.4">4.9</text><path d="M620.6,326.9 h1.6" stroke="#777" stroke-width="0.6"/><text x="623.8000000000001" y="342.2" font-size="4.4">4.5</text><path d="M620.6,340.6 h1.6" stroke="#777" stroke-width="0.6"/><text x="623.8000000000001" y="355.0" font-size="4.4">4.1</text><path d="M620.6,353.4 h1.6" stroke="#777" stroke-width="0.6"/><text x="623.8000000000001" y="367.9" font-size="4.4">3.7</text><path d="M620.6,366.3 h1.6" stroke="#777" stroke-width="0.6"/><path d="M546,328.3 h5" stroke="#52dcd2" stroke-width="1.6"/><text x="553" y="329.8" font-size="4.2">RI</text><path d="M546,334.3 h5.5" stroke="#c92f5c" stroke-width="1.6"/><text x="553" y="335.8" font-size="4.2">Log MW</text><text transform="translate(536.0,348.2) rotate(-90)" font-size="6.8" text-anchor="middle">RI</text><text transform="translate(640,348.4) rotate(-90)" font-size="7.4" text-anchor="middle">Log MW</text><text x="563.6" y="382.6" font-size="7.4">V<tspan dy="2.1" font-size="4.6">e</tspan><tspan dy="-2.1">- V</tspan><tspan dy="2.1" font-size="4.6">O</tspan><tspan dy="-2.1"> (ml)</tspan></text>
<path d="M593,385.3 h7.7" stroke="#c92f5c" stroke-width="2.2"/><text x="604.5999999999999" y="387.9" font-size="8.9">UV</text><path d="M593,395.5 h7.7" stroke="#6c5fd6" stroke-width="2.2"/><text x="602.8" y="398.1" font-size="8.5">Light scattering</text><path d="M593,405.7 h7.7" stroke="#52dcd2" stroke-width="2.2"/><text x="602.8" y="408.3" font-size="8.5">Refractive index (RI)</text>
<path d="M417,502.7 H627.3" stroke="#555" stroke-width="0.9"/><path d="M522.2,490.6 V519 M575.8,490.6 V519" stroke="#888" stroke-width="0.8"/><text x="417.7" y="500.5" font-size="9.6" text-anchor="start" style="white-space:pre" xml:space="preserve">Expected  Mass (kDa)</text><text x="546.8" y="500.5" font-size="9.6" text-anchor="middle" style="white-space:pre" xml:space="preserve">Mw/Mn</text><text x="595.6" y="500.5" font-size="9.6" text-anchor="middle" style="white-space:pre" xml:space="preserve">Mw</text><text x="454" y="514.9" font-size="9.6" text-anchor="middle">21.2</text><text x="545.5" y="514.9" font-size="9.6" text-anchor="middle">1.001</text><text x="601" y="514.9" font-size="9.6" text-anchor="middle">24.3 ± 0.4</text>
</g></svg></body></html>
